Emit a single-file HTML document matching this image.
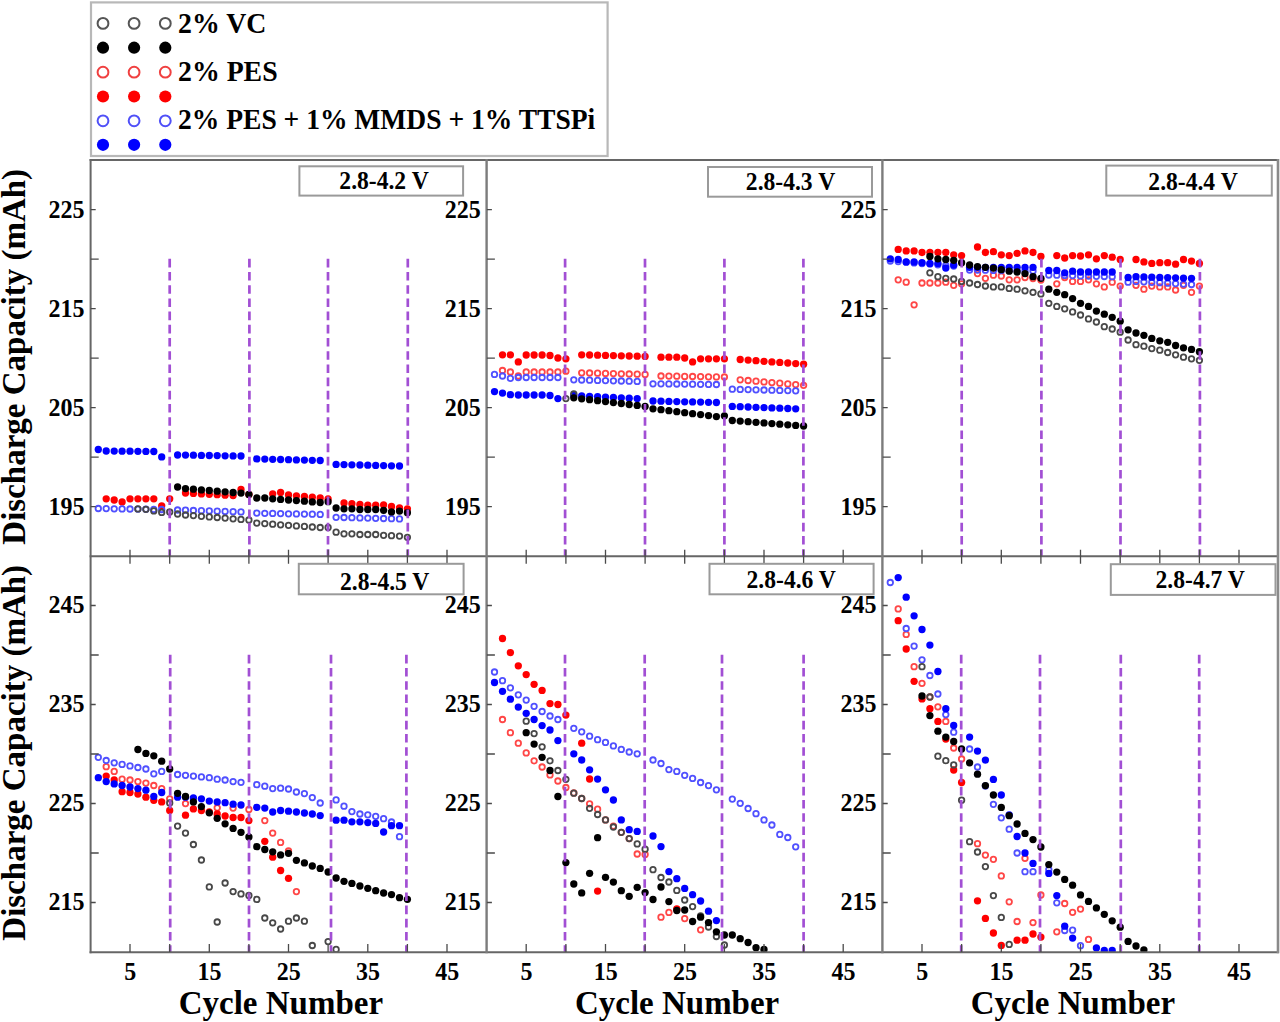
<!DOCTYPE html>
<html><head><meta charset="utf-8"><title>Discharge Capacity vs Cycle Number</title>
<style>html,body{margin:0;padding:0;background:#fff;width:1280px;height:1022px;overflow:hidden}svg{display:block}</style>
</head><body>
<svg width="1280" height="1022" viewBox="0 0 1280 1022">
<rect x="0" y="0" width="1280" height="1022" fill="#fff"/>
<rect x="91" y="2.4" width="516.6" height="153.6" fill="#fff" stroke="#b8b8b8" stroke-width="2.2"/>
<circle cx="103" cy="23.4" r="5.4" fill="none" stroke="#555" stroke-width="2"/>
<circle cx="134.1" cy="23.4" r="5.4" fill="none" stroke="#555" stroke-width="2"/>
<circle cx="165.3" cy="23.4" r="5.4" fill="none" stroke="#555" stroke-width="2"/>
<circle cx="103" cy="47.7" r="6.1" fill="#000"/>
<circle cx="134.1" cy="47.7" r="6.1" fill="#000"/>
<circle cx="165.3" cy="47.7" r="6.1" fill="#000"/>
<circle cx="103" cy="72.2" r="5.4" fill="none" stroke="#f04040" stroke-width="2"/>
<circle cx="134.1" cy="72.2" r="5.4" fill="none" stroke="#f04040" stroke-width="2"/>
<circle cx="165.3" cy="72.2" r="5.4" fill="none" stroke="#f04040" stroke-width="2"/>
<circle cx="103" cy="96.5" r="6.1" fill="#ff0000"/>
<circle cx="134.1" cy="96.5" r="6.1" fill="#ff0000"/>
<circle cx="165.3" cy="96.5" r="6.1" fill="#ff0000"/>
<circle cx="103" cy="120.8" r="5.4" fill="none" stroke="#5050f8" stroke-width="2"/>
<circle cx="134.1" cy="120.8" r="5.4" fill="none" stroke="#5050f8" stroke-width="2"/>
<circle cx="165.3" cy="120.8" r="5.4" fill="none" stroke="#5050f8" stroke-width="2"/>
<circle cx="103" cy="144.8" r="6.1" fill="#0000ff"/>
<circle cx="134.1" cy="144.8" r="6.1" fill="#0000ff"/>
<circle cx="165.3" cy="144.8" r="6.1" fill="#0000ff"/>
<text transform="translate(178 32.6) scale(1 1.05)" style="font-family:'Liberation Serif',serif;font-weight:bold;font-size:27.8px">2% VC</text>
<text transform="translate(178 80.7) scale(1 1.05)" style="font-family:'Liberation Serif',serif;font-weight:bold;font-size:27.8px">2% PES</text>
<text transform="translate(178 129) scale(1 1.05)" style="font-family:'Liberation Serif',serif;font-weight:bold;font-size:27.55px">2% PES + 1% MMDS + 1% TTSPi</text>
<defs><clipPath id="cb"><rect x="90.7" y="556" width="1187.3" height="396"/></clipPath><clipPath id="ct"><rect x="90.7" y="160.2" width="1187.3" height="395.8"/></clipPath></defs>
<g clip-path="url(#ct)">
<circle cx="106.2" cy="498.8" r="3.65" fill="#ff0000"/>
<circle cx="114.2" cy="500" r="3.65" fill="#ff0000"/>
<circle cx="122.1" cy="501.9" r="3.65" fill="#ff0000"/>
<circle cx="130" cy="498.8" r="3.65" fill="#ff0000"/>
<circle cx="137.9" cy="498.8" r="3.65" fill="#ff0000"/>
<circle cx="145.9" cy="498.8" r="3.65" fill="#ff0000"/>
<circle cx="153.8" cy="498.8" r="3.65" fill="#ff0000"/>
<circle cx="161.7" cy="505.8" r="3.65" fill="#ff0000"/>
<circle cx="169.7" cy="498.8" r="3.65" fill="#ff0000"/>
<circle cx="185.5" cy="493" r="3.65" fill="#ff0000"/>
<circle cx="193.4" cy="493.4" r="3.65" fill="#ff0000"/>
<circle cx="201.4" cy="493.9" r="3.65" fill="#ff0000"/>
<circle cx="209.3" cy="494.3" r="3.65" fill="#ff0000"/>
<circle cx="217.2" cy="494.7" r="3.65" fill="#ff0000"/>
<circle cx="225.1" cy="495.2" r="3.65" fill="#ff0000"/>
<circle cx="233.1" cy="495.6" r="3.65" fill="#ff0000"/>
<circle cx="241" cy="489.4" r="3.65" fill="#ff0000"/>
<circle cx="248.9" cy="494.5" r="3.65" fill="#ff0000"/>
<circle cx="272.7" cy="493.8" r="3.65" fill="#ff0000"/>
<circle cx="280.6" cy="492.5" r="3.65" fill="#ff0000"/>
<circle cx="288.5" cy="495" r="3.65" fill="#ff0000"/>
<circle cx="296.4" cy="495.8" r="3.65" fill="#ff0000"/>
<circle cx="304.4" cy="496.5" r="3.65" fill="#ff0000"/>
<circle cx="312.3" cy="497.2" r="3.65" fill="#ff0000"/>
<circle cx="320.2" cy="498" r="3.65" fill="#ff0000"/>
<circle cx="328.1" cy="499" r="3.65" fill="#ff0000"/>
<circle cx="344" cy="502.9" r="3.65" fill="#ff0000"/>
<circle cx="351.9" cy="503.7" r="3.65" fill="#ff0000"/>
<circle cx="359.9" cy="504.5" r="3.65" fill="#ff0000"/>
<circle cx="367.8" cy="505.2" r="3.65" fill="#ff0000"/>
<circle cx="375.7" cy="505.2" r="3.65" fill="#ff0000"/>
<circle cx="383.6" cy="504.8" r="3.65" fill="#ff0000"/>
<circle cx="391.5" cy="506.4" r="3.65" fill="#ff0000"/>
<circle cx="399.5" cy="508" r="3.65" fill="#ff0000"/>
<circle cx="407.4" cy="508.8" r="3.65" fill="#ff0000"/>
<circle cx="98.3" cy="508.5" r="2.75" fill="none" stroke="#5050ff" stroke-width="1.8"/>
<circle cx="106.2" cy="508.6" r="2.75" fill="none" stroke="#5050ff" stroke-width="1.8"/>
<circle cx="114.2" cy="508.8" r="2.75" fill="none" stroke="#5050ff" stroke-width="1.8"/>
<circle cx="122.1" cy="508.9" r="2.75" fill="none" stroke="#5050ff" stroke-width="1.8"/>
<circle cx="130" cy="509" r="2.75" fill="none" stroke="#5050ff" stroke-width="1.8"/>
<circle cx="137.9" cy="509.1" r="2.75" fill="none" stroke="#5050ff" stroke-width="1.8"/>
<circle cx="145.9" cy="509.2" r="2.75" fill="none" stroke="#5050ff" stroke-width="1.8"/>
<circle cx="153.8" cy="509.4" r="2.75" fill="none" stroke="#5050ff" stroke-width="1.8"/>
<circle cx="161.7" cy="509.5" r="2.75" fill="none" stroke="#5050ff" stroke-width="1.8"/>
<circle cx="177.6" cy="510" r="2.75" fill="none" stroke="#5050ff" stroke-width="1.8"/>
<circle cx="185.5" cy="510.2" r="2.75" fill="none" stroke="#5050ff" stroke-width="1.8"/>
<circle cx="193.4" cy="510.5" r="2.75" fill="none" stroke="#5050ff" stroke-width="1.8"/>
<circle cx="201.4" cy="510.7" r="2.75" fill="none" stroke="#5050ff" stroke-width="1.8"/>
<circle cx="209.3" cy="510.9" r="2.75" fill="none" stroke="#5050ff" stroke-width="1.8"/>
<circle cx="217.2" cy="511.2" r="2.75" fill="none" stroke="#5050ff" stroke-width="1.8"/>
<circle cx="225.1" cy="511.4" r="2.75" fill="none" stroke="#5050ff" stroke-width="1.8"/>
<circle cx="233.1" cy="511.7" r="2.75" fill="none" stroke="#5050ff" stroke-width="1.8"/>
<circle cx="241" cy="511.9" r="2.75" fill="none" stroke="#5050ff" stroke-width="1.8"/>
<circle cx="256.8" cy="513.1" r="2.75" fill="none" stroke="#5050ff" stroke-width="1.8"/>
<circle cx="264.8" cy="513.3" r="2.75" fill="none" stroke="#5050ff" stroke-width="1.8"/>
<circle cx="272.7" cy="513.4" r="2.75" fill="none" stroke="#5050ff" stroke-width="1.8"/>
<circle cx="280.6" cy="513.6" r="2.75" fill="none" stroke="#5050ff" stroke-width="1.8"/>
<circle cx="288.5" cy="513.8" r="2.75" fill="none" stroke="#5050ff" stroke-width="1.8"/>
<circle cx="296.4" cy="513.9" r="2.75" fill="none" stroke="#5050ff" stroke-width="1.8"/>
<circle cx="304.4" cy="514.1" r="2.75" fill="none" stroke="#5050ff" stroke-width="1.8"/>
<circle cx="312.3" cy="514.2" r="2.75" fill="none" stroke="#5050ff" stroke-width="1.8"/>
<circle cx="320.2" cy="514.4" r="2.75" fill="none" stroke="#5050ff" stroke-width="1.8"/>
<circle cx="336.1" cy="517.3" r="2.75" fill="none" stroke="#5050ff" stroke-width="1.8"/>
<circle cx="344" cy="517.5" r="2.75" fill="none" stroke="#5050ff" stroke-width="1.8"/>
<circle cx="351.9" cy="517.7" r="2.75" fill="none" stroke="#5050ff" stroke-width="1.8"/>
<circle cx="359.9" cy="517.9" r="2.75" fill="none" stroke="#5050ff" stroke-width="1.8"/>
<circle cx="367.8" cy="518.1" r="2.75" fill="none" stroke="#5050ff" stroke-width="1.8"/>
<circle cx="375.7" cy="518.3" r="2.75" fill="none" stroke="#5050ff" stroke-width="1.8"/>
<circle cx="383.6" cy="518.5" r="2.75" fill="none" stroke="#5050ff" stroke-width="1.8"/>
<circle cx="391.5" cy="518.7" r="2.75" fill="none" stroke="#5050ff" stroke-width="1.8"/>
<circle cx="399.5" cy="518.9" r="2.75" fill="none" stroke="#5050ff" stroke-width="1.8"/>
<circle cx="98.3" cy="449.5" r="3.65" fill="#0000ff"/>
<circle cx="106.2" cy="451" r="3.65" fill="#0000ff"/>
<circle cx="114.2" cy="451.1" r="3.65" fill="#0000ff"/>
<circle cx="122.1" cy="451.2" r="3.65" fill="#0000ff"/>
<circle cx="130" cy="451.2" r="3.65" fill="#0000ff"/>
<circle cx="137.9" cy="451.3" r="3.65" fill="#0000ff"/>
<circle cx="145.9" cy="451.4" r="3.65" fill="#0000ff"/>
<circle cx="153.8" cy="451.5" r="3.65" fill="#0000ff"/>
<circle cx="161.7" cy="456.9" r="3.65" fill="#0000ff"/>
<circle cx="177.6" cy="455" r="3.65" fill="#0000ff"/>
<circle cx="185.5" cy="455.1" r="3.65" fill="#0000ff"/>
<circle cx="193.4" cy="455.2" r="3.65" fill="#0000ff"/>
<circle cx="201.4" cy="455.4" r="3.65" fill="#0000ff"/>
<circle cx="209.3" cy="455.5" r="3.65" fill="#0000ff"/>
<circle cx="217.2" cy="455.6" r="3.65" fill="#0000ff"/>
<circle cx="225.1" cy="455.8" r="3.65" fill="#0000ff"/>
<circle cx="233.1" cy="455.9" r="3.65" fill="#0000ff"/>
<circle cx="241" cy="456" r="3.65" fill="#0000ff"/>
<circle cx="256.8" cy="458.9" r="3.65" fill="#0000ff"/>
<circle cx="264.8" cy="459.1" r="3.65" fill="#0000ff"/>
<circle cx="272.7" cy="459.3" r="3.65" fill="#0000ff"/>
<circle cx="280.6" cy="459.5" r="3.65" fill="#0000ff"/>
<circle cx="288.5" cy="459.7" r="3.65" fill="#0000ff"/>
<circle cx="296.4" cy="459.9" r="3.65" fill="#0000ff"/>
<circle cx="304.4" cy="460.1" r="3.65" fill="#0000ff"/>
<circle cx="312.3" cy="460.3" r="3.65" fill="#0000ff"/>
<circle cx="320.2" cy="460.5" r="3.65" fill="#0000ff"/>
<circle cx="336.1" cy="464.4" r="3.65" fill="#0000ff"/>
<circle cx="344" cy="464.6" r="3.65" fill="#0000ff"/>
<circle cx="351.9" cy="464.8" r="3.65" fill="#0000ff"/>
<circle cx="359.9" cy="465" r="3.65" fill="#0000ff"/>
<circle cx="367.8" cy="465.2" r="3.65" fill="#0000ff"/>
<circle cx="375.7" cy="465.4" r="3.65" fill="#0000ff"/>
<circle cx="383.6" cy="465.6" r="3.65" fill="#0000ff"/>
<circle cx="391.5" cy="465.8" r="3.65" fill="#0000ff"/>
<circle cx="399.5" cy="466" r="3.65" fill="#0000ff"/>
<circle cx="137.9" cy="508.9" r="2.75" fill="none" stroke="#484848" stroke-width="1.8"/>
<circle cx="145.9" cy="509.3" r="2.75" fill="none" stroke="#484848" stroke-width="1.8"/>
<circle cx="153.8" cy="510.9" r="2.75" fill="none" stroke="#484848" stroke-width="1.8"/>
<circle cx="161.7" cy="512.4" r="2.75" fill="none" stroke="#484848" stroke-width="1.8"/>
<circle cx="169.7" cy="512" r="2.75" fill="none" stroke="#484848" stroke-width="1.8"/>
<circle cx="177.6" cy="514" r="2.75" fill="none" stroke="#484848" stroke-width="1.8"/>
<circle cx="185.5" cy="515" r="2.75" fill="none" stroke="#484848" stroke-width="1.8"/>
<circle cx="193.4" cy="515.6" r="2.75" fill="none" stroke="#484848" stroke-width="1.8"/>
<circle cx="201.4" cy="516.3" r="2.75" fill="none" stroke="#484848" stroke-width="1.8"/>
<circle cx="209.3" cy="516.9" r="2.75" fill="none" stroke="#484848" stroke-width="1.8"/>
<circle cx="217.2" cy="517.5" r="2.75" fill="none" stroke="#484848" stroke-width="1.8"/>
<circle cx="225.1" cy="518.1" r="2.75" fill="none" stroke="#484848" stroke-width="1.8"/>
<circle cx="233.1" cy="518.8" r="2.75" fill="none" stroke="#484848" stroke-width="1.8"/>
<circle cx="241" cy="519.4" r="2.75" fill="none" stroke="#484848" stroke-width="1.8"/>
<circle cx="248.9" cy="520" r="2.75" fill="none" stroke="#484848" stroke-width="1.8"/>
<circle cx="256.8" cy="523.1" r="2.75" fill="none" stroke="#484848" stroke-width="1.8"/>
<circle cx="264.8" cy="523.6" r="2.75" fill="none" stroke="#484848" stroke-width="1.8"/>
<circle cx="272.7" cy="524.2" r="2.75" fill="none" stroke="#484848" stroke-width="1.8"/>
<circle cx="280.6" cy="524.8" r="2.75" fill="none" stroke="#484848" stroke-width="1.8"/>
<circle cx="288.5" cy="525.3" r="2.75" fill="none" stroke="#484848" stroke-width="1.8"/>
<circle cx="296.4" cy="525.9" r="2.75" fill="none" stroke="#484848" stroke-width="1.8"/>
<circle cx="304.4" cy="526.4" r="2.75" fill="none" stroke="#484848" stroke-width="1.8"/>
<circle cx="312.3" cy="527" r="2.75" fill="none" stroke="#484848" stroke-width="1.8"/>
<circle cx="320.2" cy="527.5" r="2.75" fill="none" stroke="#484848" stroke-width="1.8"/>
<circle cx="328.1" cy="527.5" r="2.75" fill="none" stroke="#484848" stroke-width="1.8"/>
<circle cx="336.1" cy="532.2" r="2.75" fill="none" stroke="#484848" stroke-width="1.8"/>
<circle cx="344" cy="533.8" r="2.75" fill="none" stroke="#484848" stroke-width="1.8"/>
<circle cx="351.9" cy="533.8" r="2.75" fill="none" stroke="#484848" stroke-width="1.8"/>
<circle cx="359.9" cy="534.5" r="2.75" fill="none" stroke="#484848" stroke-width="1.8"/>
<circle cx="367.8" cy="534.5" r="2.75" fill="none" stroke="#484848" stroke-width="1.8"/>
<circle cx="375.7" cy="534.5" r="2.75" fill="none" stroke="#484848" stroke-width="1.8"/>
<circle cx="383.6" cy="535.3" r="2.75" fill="none" stroke="#484848" stroke-width="1.8"/>
<circle cx="391.5" cy="535.7" r="2.75" fill="none" stroke="#484848" stroke-width="1.8"/>
<circle cx="399.5" cy="536.1" r="2.75" fill="none" stroke="#484848" stroke-width="1.8"/>
<circle cx="407.4" cy="537.3" r="2.75" fill="none" stroke="#484848" stroke-width="1.8"/>
<circle cx="177.6" cy="487" r="3.65" fill="#000"/>
<circle cx="185.5" cy="488.6" r="3.65" fill="#000"/>
<circle cx="193.4" cy="489.2" r="3.65" fill="#000"/>
<circle cx="201.4" cy="489.9" r="3.65" fill="#000"/>
<circle cx="209.3" cy="490.5" r="3.65" fill="#000"/>
<circle cx="217.2" cy="491.2" r="3.65" fill="#000"/>
<circle cx="225.1" cy="491.8" r="3.65" fill="#000"/>
<circle cx="233.1" cy="492.5" r="3.65" fill="#000"/>
<circle cx="241" cy="493.1" r="3.65" fill="#000"/>
<circle cx="248.9" cy="494.4" r="3.65" fill="#000"/>
<circle cx="256.8" cy="498" r="3.65" fill="#000"/>
<circle cx="264.8" cy="498" r="3.65" fill="#000"/>
<circle cx="272.7" cy="498.8" r="3.65" fill="#000"/>
<circle cx="280.6" cy="499.4" r="3.65" fill="#000"/>
<circle cx="288.5" cy="500" r="3.65" fill="#000"/>
<circle cx="296.4" cy="500.6" r="3.65" fill="#000"/>
<circle cx="304.4" cy="501.2" r="3.65" fill="#000"/>
<circle cx="312.3" cy="501.9" r="3.65" fill="#000"/>
<circle cx="320.2" cy="502.5" r="3.65" fill="#000"/>
<circle cx="328.1" cy="501.7" r="3.65" fill="#000"/>
<circle cx="336.1" cy="508" r="3.65" fill="#000"/>
<circle cx="344" cy="508.8" r="3.65" fill="#000"/>
<circle cx="351.9" cy="508.8" r="3.65" fill="#000"/>
<circle cx="359.9" cy="509.5" r="3.65" fill="#000"/>
<circle cx="367.8" cy="509.5" r="3.65" fill="#000"/>
<circle cx="375.7" cy="509.5" r="3.65" fill="#000"/>
<circle cx="383.6" cy="510.3" r="3.65" fill="#000"/>
<circle cx="391.5" cy="511.9" r="3.65" fill="#000"/>
<circle cx="399.5" cy="511.1" r="3.65" fill="#000"/>
<circle cx="407.4" cy="512.7" r="3.65" fill="#000"/>
</g>
<g clip-path="url(#ct)">
<circle cx="502.5" cy="370.5" r="2.75" fill="none" stroke="#ff4646" stroke-width="1.8"/>
<circle cx="510.4" cy="372" r="2.75" fill="none" stroke="#ff4646" stroke-width="1.8"/>
<circle cx="518.3" cy="376" r="2.75" fill="none" stroke="#ff4646" stroke-width="1.8"/>
<circle cx="526.2" cy="372" r="2.75" fill="none" stroke="#ff4646" stroke-width="1.8"/>
<circle cx="534.1" cy="372" r="2.75" fill="none" stroke="#ff4646" stroke-width="1.8"/>
<circle cx="542.1" cy="372" r="2.75" fill="none" stroke="#ff4646" stroke-width="1.8"/>
<circle cx="550" cy="372" r="2.75" fill="none" stroke="#ff4646" stroke-width="1.8"/>
<circle cx="557.9" cy="372" r="2.75" fill="none" stroke="#ff4646" stroke-width="1.8"/>
<circle cx="565.9" cy="371.2" r="2.75" fill="none" stroke="#ff4646" stroke-width="1.8"/>
<circle cx="581.7" cy="372.8" r="2.75" fill="none" stroke="#ff4646" stroke-width="1.8"/>
<circle cx="589.6" cy="373" r="2.75" fill="none" stroke="#ff4646" stroke-width="1.8"/>
<circle cx="597.6" cy="373.2" r="2.75" fill="none" stroke="#ff4646" stroke-width="1.8"/>
<circle cx="605.5" cy="373.4" r="2.75" fill="none" stroke="#ff4646" stroke-width="1.8"/>
<circle cx="613.4" cy="373.6" r="2.75" fill="none" stroke="#ff4646" stroke-width="1.8"/>
<circle cx="621.3" cy="373.8" r="2.75" fill="none" stroke="#ff4646" stroke-width="1.8"/>
<circle cx="629.2" cy="374" r="2.75" fill="none" stroke="#ff4646" stroke-width="1.8"/>
<circle cx="637.2" cy="374.2" r="2.75" fill="none" stroke="#ff4646" stroke-width="1.8"/>
<circle cx="645.1" cy="374.4" r="2.75" fill="none" stroke="#ff4646" stroke-width="1.8"/>
<circle cx="661" cy="376" r="2.75" fill="none" stroke="#ff4646" stroke-width="1.8"/>
<circle cx="668.9" cy="376.1" r="2.75" fill="none" stroke="#ff4646" stroke-width="1.8"/>
<circle cx="676.8" cy="376.2" r="2.75" fill="none" stroke="#ff4646" stroke-width="1.8"/>
<circle cx="684.7" cy="376.4" r="2.75" fill="none" stroke="#ff4646" stroke-width="1.8"/>
<circle cx="692.6" cy="376.5" r="2.75" fill="none" stroke="#ff4646" stroke-width="1.8"/>
<circle cx="700.6" cy="376.6" r="2.75" fill="none" stroke="#ff4646" stroke-width="1.8"/>
<circle cx="708.5" cy="376.8" r="2.75" fill="none" stroke="#ff4646" stroke-width="1.8"/>
<circle cx="716.4" cy="376.9" r="2.75" fill="none" stroke="#ff4646" stroke-width="1.8"/>
<circle cx="724.4" cy="377" r="2.75" fill="none" stroke="#ff4646" stroke-width="1.8"/>
<circle cx="740.2" cy="379.8" r="2.75" fill="none" stroke="#ff4646" stroke-width="1.8"/>
<circle cx="748.1" cy="380.5" r="2.75" fill="none" stroke="#ff4646" stroke-width="1.8"/>
<circle cx="756" cy="381.2" r="2.75" fill="none" stroke="#ff4646" stroke-width="1.8"/>
<circle cx="764" cy="381.9" r="2.75" fill="none" stroke="#ff4646" stroke-width="1.8"/>
<circle cx="771.9" cy="382.6" r="2.75" fill="none" stroke="#ff4646" stroke-width="1.8"/>
<circle cx="779.8" cy="383.2" r="2.75" fill="none" stroke="#ff4646" stroke-width="1.8"/>
<circle cx="787.8" cy="383.9" r="2.75" fill="none" stroke="#ff4646" stroke-width="1.8"/>
<circle cx="795.7" cy="384.6" r="2.75" fill="none" stroke="#ff4646" stroke-width="1.8"/>
<circle cx="803.6" cy="385.3" r="2.75" fill="none" stroke="#ff4646" stroke-width="1.8"/>
<circle cx="502.5" cy="354.8" r="3.65" fill="#ff0000"/>
<circle cx="510.4" cy="354.8" r="3.65" fill="#ff0000"/>
<circle cx="518.3" cy="361.9" r="3.65" fill="#ff0000"/>
<circle cx="526.2" cy="355" r="3.65" fill="#ff0000"/>
<circle cx="534.1" cy="355" r="3.65" fill="#ff0000"/>
<circle cx="542.1" cy="355" r="3.65" fill="#ff0000"/>
<circle cx="550" cy="355.5" r="3.65" fill="#ff0000"/>
<circle cx="557.9" cy="358" r="3.65" fill="#ff0000"/>
<circle cx="565.9" cy="358.8" r="3.65" fill="#ff0000"/>
<circle cx="581.7" cy="354.8" r="3.65" fill="#ff0000"/>
<circle cx="589.6" cy="355" r="3.65" fill="#ff0000"/>
<circle cx="597.6" cy="355.2" r="3.65" fill="#ff0000"/>
<circle cx="605.5" cy="355.4" r="3.65" fill="#ff0000"/>
<circle cx="613.4" cy="355.6" r="3.65" fill="#ff0000"/>
<circle cx="621.3" cy="355.8" r="3.65" fill="#ff0000"/>
<circle cx="629.2" cy="356" r="3.65" fill="#ff0000"/>
<circle cx="637.2" cy="356.2" r="3.65" fill="#ff0000"/>
<circle cx="645.1" cy="356.4" r="3.65" fill="#ff0000"/>
<circle cx="661" cy="357.2" r="3.65" fill="#ff0000"/>
<circle cx="668.9" cy="357.2" r="3.65" fill="#ff0000"/>
<circle cx="676.8" cy="357.2" r="3.65" fill="#ff0000"/>
<circle cx="684.7" cy="358" r="3.65" fill="#ff0000"/>
<circle cx="692.6" cy="361.9" r="3.65" fill="#ff0000"/>
<circle cx="700.6" cy="358.8" r="3.65" fill="#ff0000"/>
<circle cx="708.5" cy="358.8" r="3.65" fill="#ff0000"/>
<circle cx="716.4" cy="358.8" r="3.65" fill="#ff0000"/>
<circle cx="724.4" cy="358.8" r="3.65" fill="#ff0000"/>
<circle cx="740.2" cy="359.5" r="3.65" fill="#ff0000"/>
<circle cx="748.1" cy="360.1" r="3.65" fill="#ff0000"/>
<circle cx="756" cy="360.7" r="3.65" fill="#ff0000"/>
<circle cx="764" cy="361.3" r="3.65" fill="#ff0000"/>
<circle cx="771.9" cy="361.9" r="3.65" fill="#ff0000"/>
<circle cx="779.8" cy="362.4" r="3.65" fill="#ff0000"/>
<circle cx="787.8" cy="363" r="3.65" fill="#ff0000"/>
<circle cx="795.7" cy="363.6" r="3.65" fill="#ff0000"/>
<circle cx="803.6" cy="364.2" r="3.65" fill="#ff0000"/>
<circle cx="494.5" cy="374.4" r="2.75" fill="none" stroke="#5050ff" stroke-width="1.8"/>
<circle cx="502.5" cy="376" r="2.75" fill="none" stroke="#5050ff" stroke-width="1.8"/>
<circle cx="510.4" cy="378.3" r="2.75" fill="none" stroke="#5050ff" stroke-width="1.8"/>
<circle cx="518.3" cy="377.5" r="2.75" fill="none" stroke="#5050ff" stroke-width="1.8"/>
<circle cx="526.2" cy="377.5" r="2.75" fill="none" stroke="#5050ff" stroke-width="1.8"/>
<circle cx="534.1" cy="377.5" r="2.75" fill="none" stroke="#5050ff" stroke-width="1.8"/>
<circle cx="542.1" cy="377.5" r="2.75" fill="none" stroke="#5050ff" stroke-width="1.8"/>
<circle cx="550" cy="377.5" r="2.75" fill="none" stroke="#5050ff" stroke-width="1.8"/>
<circle cx="557.9" cy="377.5" r="2.75" fill="none" stroke="#5050ff" stroke-width="1.8"/>
<circle cx="573.8" cy="379.8" r="2.75" fill="none" stroke="#5050ff" stroke-width="1.8"/>
<circle cx="581.7" cy="380" r="2.75" fill="none" stroke="#5050ff" stroke-width="1.8"/>
<circle cx="589.6" cy="380.2" r="2.75" fill="none" stroke="#5050ff" stroke-width="1.8"/>
<circle cx="597.6" cy="380.4" r="2.75" fill="none" stroke="#5050ff" stroke-width="1.8"/>
<circle cx="605.5" cy="380.6" r="2.75" fill="none" stroke="#5050ff" stroke-width="1.8"/>
<circle cx="613.4" cy="380.8" r="2.75" fill="none" stroke="#5050ff" stroke-width="1.8"/>
<circle cx="621.3" cy="381" r="2.75" fill="none" stroke="#5050ff" stroke-width="1.8"/>
<circle cx="629.2" cy="381.2" r="2.75" fill="none" stroke="#5050ff" stroke-width="1.8"/>
<circle cx="637.2" cy="381.4" r="2.75" fill="none" stroke="#5050ff" stroke-width="1.8"/>
<circle cx="653" cy="383.8" r="2.75" fill="none" stroke="#5050ff" stroke-width="1.8"/>
<circle cx="661" cy="383.8" r="2.75" fill="none" stroke="#5050ff" stroke-width="1.8"/>
<circle cx="668.9" cy="383.9" r="2.75" fill="none" stroke="#5050ff" stroke-width="1.8"/>
<circle cx="676.8" cy="384" r="2.75" fill="none" stroke="#5050ff" stroke-width="1.8"/>
<circle cx="684.7" cy="384.1" r="2.75" fill="none" stroke="#5050ff" stroke-width="1.8"/>
<circle cx="692.6" cy="384.2" r="2.75" fill="none" stroke="#5050ff" stroke-width="1.8"/>
<circle cx="700.6" cy="384.3" r="2.75" fill="none" stroke="#5050ff" stroke-width="1.8"/>
<circle cx="708.5" cy="384.4" r="2.75" fill="none" stroke="#5050ff" stroke-width="1.8"/>
<circle cx="716.4" cy="384.5" r="2.75" fill="none" stroke="#5050ff" stroke-width="1.8"/>
<circle cx="732.3" cy="389.2" r="2.75" fill="none" stroke="#5050ff" stroke-width="1.8"/>
<circle cx="740.2" cy="389.4" r="2.75" fill="none" stroke="#5050ff" stroke-width="1.8"/>
<circle cx="748.1" cy="389.6" r="2.75" fill="none" stroke="#5050ff" stroke-width="1.8"/>
<circle cx="756" cy="389.8" r="2.75" fill="none" stroke="#5050ff" stroke-width="1.8"/>
<circle cx="764" cy="390" r="2.75" fill="none" stroke="#5050ff" stroke-width="1.8"/>
<circle cx="771.9" cy="390.2" r="2.75" fill="none" stroke="#5050ff" stroke-width="1.8"/>
<circle cx="779.8" cy="390.4" r="2.75" fill="none" stroke="#5050ff" stroke-width="1.8"/>
<circle cx="787.8" cy="390.6" r="2.75" fill="none" stroke="#5050ff" stroke-width="1.8"/>
<circle cx="795.7" cy="390.8" r="2.75" fill="none" stroke="#5050ff" stroke-width="1.8"/>
<circle cx="494.5" cy="391.6" r="3.65" fill="#0000ff"/>
<circle cx="502.5" cy="393.1" r="3.65" fill="#0000ff"/>
<circle cx="510.4" cy="394.7" r="3.65" fill="#0000ff"/>
<circle cx="518.3" cy="395" r="3.65" fill="#0000ff"/>
<circle cx="526.2" cy="395" r="3.65" fill="#0000ff"/>
<circle cx="534.1" cy="395" r="3.65" fill="#0000ff"/>
<circle cx="542.1" cy="395" r="3.65" fill="#0000ff"/>
<circle cx="550" cy="395.5" r="3.65" fill="#0000ff"/>
<circle cx="557.9" cy="398.6" r="3.65" fill="#0000ff"/>
<circle cx="573.8" cy="395.5" r="3.65" fill="#0000ff"/>
<circle cx="581.7" cy="395.9" r="3.65" fill="#0000ff"/>
<circle cx="589.6" cy="396.3" r="3.65" fill="#0000ff"/>
<circle cx="597.6" cy="396.7" r="3.65" fill="#0000ff"/>
<circle cx="605.5" cy="397.1" r="3.65" fill="#0000ff"/>
<circle cx="613.4" cy="397.4" r="3.65" fill="#0000ff"/>
<circle cx="621.3" cy="397.8" r="3.65" fill="#0000ff"/>
<circle cx="629.2" cy="398.2" r="3.65" fill="#0000ff"/>
<circle cx="637.2" cy="398.6" r="3.65" fill="#0000ff"/>
<circle cx="653" cy="401" r="3.65" fill="#0000ff"/>
<circle cx="661" cy="401.2" r="3.65" fill="#0000ff"/>
<circle cx="668.9" cy="401.4" r="3.65" fill="#0000ff"/>
<circle cx="676.8" cy="401.6" r="3.65" fill="#0000ff"/>
<circle cx="684.7" cy="401.8" r="3.65" fill="#0000ff"/>
<circle cx="692.6" cy="401.9" r="3.65" fill="#0000ff"/>
<circle cx="700.6" cy="402.1" r="3.65" fill="#0000ff"/>
<circle cx="708.5" cy="402.3" r="3.65" fill="#0000ff"/>
<circle cx="716.4" cy="402.5" r="3.65" fill="#0000ff"/>
<circle cx="732.3" cy="406.4" r="3.65" fill="#0000ff"/>
<circle cx="740.2" cy="406.7" r="3.65" fill="#0000ff"/>
<circle cx="748.1" cy="407" r="3.65" fill="#0000ff"/>
<circle cx="756" cy="407.3" r="3.65" fill="#0000ff"/>
<circle cx="764" cy="407.6" r="3.65" fill="#0000ff"/>
<circle cx="771.9" cy="407.9" r="3.65" fill="#0000ff"/>
<circle cx="779.8" cy="408.2" r="3.65" fill="#0000ff"/>
<circle cx="787.8" cy="408.5" r="3.65" fill="#0000ff"/>
<circle cx="795.7" cy="408.8" r="3.65" fill="#0000ff"/>
<circle cx="565.9" cy="398.6" r="2.75" fill="none" stroke="#484848" stroke-width="1.8"/>
<circle cx="573.8" cy="394" r="2.75" fill="none" stroke="#484848" stroke-width="1.8"/>
<circle cx="573.8" cy="397.8" r="3.65" fill="#000"/>
<circle cx="581.7" cy="398.8" r="3.65" fill="#000"/>
<circle cx="589.6" cy="399.7" r="3.65" fill="#000"/>
<circle cx="597.6" cy="400.7" r="3.65" fill="#000"/>
<circle cx="605.5" cy="401.6" r="3.65" fill="#000"/>
<circle cx="613.4" cy="402.6" r="3.65" fill="#000"/>
<circle cx="621.3" cy="403.5" r="3.65" fill="#000"/>
<circle cx="629.2" cy="404.5" r="3.65" fill="#000"/>
<circle cx="637.2" cy="405.4" r="3.65" fill="#000"/>
<circle cx="645.1" cy="406.4" r="3.65" fill="#000"/>
<circle cx="653" cy="408.8" r="3.65" fill="#000"/>
<circle cx="661" cy="409.7" r="3.65" fill="#000"/>
<circle cx="668.9" cy="410.7" r="3.65" fill="#000"/>
<circle cx="676.8" cy="411.7" r="3.65" fill="#000"/>
<circle cx="684.7" cy="412.7" r="3.65" fill="#000"/>
<circle cx="692.6" cy="413.7" r="3.65" fill="#000"/>
<circle cx="700.6" cy="414.6" r="3.65" fill="#000"/>
<circle cx="708.5" cy="415.6" r="3.65" fill="#000"/>
<circle cx="716.4" cy="416.6" r="3.65" fill="#000"/>
<circle cx="724.4" cy="415.8" r="3.65" fill="#000"/>
<circle cx="732.3" cy="420.5" r="3.65" fill="#000"/>
<circle cx="740.2" cy="421.1" r="3.65" fill="#000"/>
<circle cx="748.1" cy="421.7" r="3.65" fill="#000"/>
<circle cx="756" cy="422.3" r="3.65" fill="#000"/>
<circle cx="764" cy="422.9" r="3.65" fill="#000"/>
<circle cx="771.9" cy="423.6" r="3.65" fill="#000"/>
<circle cx="779.8" cy="424.2" r="3.65" fill="#000"/>
<circle cx="787.8" cy="424.8" r="3.65" fill="#000"/>
<circle cx="795.7" cy="425.4" r="3.65" fill="#000"/>
<circle cx="803.6" cy="426" r="3.65" fill="#000"/>
</g>
<g clip-path="url(#ct)">
<circle cx="898.2" cy="279.8" r="2.75" fill="none" stroke="#ff4646" stroke-width="1.8"/>
<circle cx="906.2" cy="282.2" r="2.75" fill="none" stroke="#ff4646" stroke-width="1.8"/>
<circle cx="914.1" cy="304.8" r="2.75" fill="none" stroke="#ff4646" stroke-width="1.8"/>
<circle cx="922" cy="283" r="2.75" fill="none" stroke="#ff4646" stroke-width="1.8"/>
<circle cx="929.9" cy="283" r="2.75" fill="none" stroke="#ff4646" stroke-width="1.8"/>
<circle cx="937.9" cy="283" r="2.75" fill="none" stroke="#ff4646" stroke-width="1.8"/>
<circle cx="945.8" cy="282.2" r="2.75" fill="none" stroke="#ff4646" stroke-width="1.8"/>
<circle cx="953.7" cy="285.3" r="2.75" fill="none" stroke="#ff4646" stroke-width="1.8"/>
<circle cx="961.6" cy="283.8" r="2.75" fill="none" stroke="#ff4646" stroke-width="1.8"/>
<circle cx="977.5" cy="273.6" r="2.75" fill="none" stroke="#ff4646" stroke-width="1.8"/>
<circle cx="985.4" cy="278.3" r="2.75" fill="none" stroke="#ff4646" stroke-width="1.8"/>
<circle cx="993.4" cy="275.2" r="2.75" fill="none" stroke="#ff4646" stroke-width="1.8"/>
<circle cx="1001.3" cy="276" r="2.75" fill="none" stroke="#ff4646" stroke-width="1.8"/>
<circle cx="1009.2" cy="279.8" r="2.75" fill="none" stroke="#ff4646" stroke-width="1.8"/>
<circle cx="1017.1" cy="279.8" r="2.75" fill="none" stroke="#ff4646" stroke-width="1.8"/>
<circle cx="1025" cy="277.5" r="2.75" fill="none" stroke="#ff4646" stroke-width="1.8"/>
<circle cx="1033" cy="278.5" r="2.75" fill="none" stroke="#ff4646" stroke-width="1.8"/>
<circle cx="1040.9" cy="280" r="2.75" fill="none" stroke="#ff4646" stroke-width="1.8"/>
<circle cx="1056.8" cy="283.8" r="2.75" fill="none" stroke="#ff4646" stroke-width="1.8"/>
<circle cx="1064.7" cy="277.5" r="2.75" fill="none" stroke="#ff4646" stroke-width="1.8"/>
<circle cx="1072.6" cy="281.4" r="2.75" fill="none" stroke="#ff4646" stroke-width="1.8"/>
<circle cx="1080.5" cy="281.4" r="2.75" fill="none" stroke="#ff4646" stroke-width="1.8"/>
<circle cx="1088.5" cy="279.8" r="2.75" fill="none" stroke="#ff4646" stroke-width="1.8"/>
<circle cx="1096.4" cy="283.8" r="2.75" fill="none" stroke="#ff4646" stroke-width="1.8"/>
<circle cx="1104.3" cy="286.9" r="2.75" fill="none" stroke="#ff4646" stroke-width="1.8"/>
<circle cx="1112.2" cy="282.2" r="2.75" fill="none" stroke="#ff4646" stroke-width="1.8"/>
<circle cx="1120.2" cy="286.1" r="2.75" fill="none" stroke="#ff4646" stroke-width="1.8"/>
<circle cx="1136" cy="285.3" r="2.75" fill="none" stroke="#ff4646" stroke-width="1.8"/>
<circle cx="1143.9" cy="289.2" r="2.75" fill="none" stroke="#ff4646" stroke-width="1.8"/>
<circle cx="1151.8" cy="286.1" r="2.75" fill="none" stroke="#ff4646" stroke-width="1.8"/>
<circle cx="1159.8" cy="286.9" r="2.75" fill="none" stroke="#ff4646" stroke-width="1.8"/>
<circle cx="1167.7" cy="286.9" r="2.75" fill="none" stroke="#ff4646" stroke-width="1.8"/>
<circle cx="1175.6" cy="290" r="2.75" fill="none" stroke="#ff4646" stroke-width="1.8"/>
<circle cx="1183.5" cy="285.3" r="2.75" fill="none" stroke="#ff4646" stroke-width="1.8"/>
<circle cx="1191.5" cy="292.3" r="2.75" fill="none" stroke="#ff4646" stroke-width="1.8"/>
<circle cx="1199.4" cy="286.1" r="2.75" fill="none" stroke="#ff4646" stroke-width="1.8"/>
<circle cx="898.2" cy="249.4" r="3.65" fill="#ff0000"/>
<circle cx="906.2" cy="250.9" r="3.65" fill="#ff0000"/>
<circle cx="914.1" cy="250.9" r="3.65" fill="#ff0000"/>
<circle cx="922" cy="252.5" r="3.65" fill="#ff0000"/>
<circle cx="929.9" cy="252.5" r="3.65" fill="#ff0000"/>
<circle cx="937.9" cy="252.5" r="3.65" fill="#ff0000"/>
<circle cx="945.8" cy="252.5" r="3.65" fill="#ff0000"/>
<circle cx="953.7" cy="254.8" r="3.65" fill="#ff0000"/>
<circle cx="961.6" cy="255.6" r="3.65" fill="#ff0000"/>
<circle cx="977.5" cy="247" r="3.65" fill="#ff0000"/>
<circle cx="985.4" cy="252.5" r="3.65" fill="#ff0000"/>
<circle cx="993.4" cy="251.7" r="3.65" fill="#ff0000"/>
<circle cx="1001.3" cy="254.8" r="3.65" fill="#ff0000"/>
<circle cx="1009.2" cy="255.6" r="3.65" fill="#ff0000"/>
<circle cx="1017.1" cy="253.3" r="3.65" fill="#ff0000"/>
<circle cx="1025" cy="250.9" r="3.65" fill="#ff0000"/>
<circle cx="1033" cy="252.5" r="3.65" fill="#ff0000"/>
<circle cx="1040.9" cy="256.4" r="3.65" fill="#ff0000"/>
<circle cx="1056.8" cy="255.6" r="3.65" fill="#ff0000"/>
<circle cx="1064.7" cy="258" r="3.65" fill="#ff0000"/>
<circle cx="1072.6" cy="255.6" r="3.65" fill="#ff0000"/>
<circle cx="1080.5" cy="256" r="3.65" fill="#ff0000"/>
<circle cx="1088.5" cy="254.8" r="3.65" fill="#ff0000"/>
<circle cx="1096.4" cy="258.8" r="3.65" fill="#ff0000"/>
<circle cx="1104.3" cy="255.6" r="3.65" fill="#ff0000"/>
<circle cx="1112.2" cy="257.2" r="3.65" fill="#ff0000"/>
<circle cx="1120.2" cy="259.5" r="3.65" fill="#ff0000"/>
<circle cx="1136" cy="259.5" r="3.65" fill="#ff0000"/>
<circle cx="1143.9" cy="261.9" r="3.65" fill="#ff0000"/>
<circle cx="1151.8" cy="263.4" r="3.65" fill="#ff0000"/>
<circle cx="1159.8" cy="262.7" r="3.65" fill="#ff0000"/>
<circle cx="1167.7" cy="262.7" r="3.65" fill="#ff0000"/>
<circle cx="1175.6" cy="264.2" r="3.65" fill="#ff0000"/>
<circle cx="1183.5" cy="259.5" r="3.65" fill="#ff0000"/>
<circle cx="1191.5" cy="261.1" r="3.65" fill="#ff0000"/>
<circle cx="1199.4" cy="263.4" r="3.65" fill="#ff0000"/>
<circle cx="890.3" cy="261" r="2.75" fill="none" stroke="#5050ff" stroke-width="1.8"/>
<circle cx="898.2" cy="261.6" r="2.75" fill="none" stroke="#5050ff" stroke-width="1.8"/>
<circle cx="906.2" cy="262.2" r="2.75" fill="none" stroke="#5050ff" stroke-width="1.8"/>
<circle cx="914.1" cy="262.9" r="2.75" fill="none" stroke="#5050ff" stroke-width="1.8"/>
<circle cx="922" cy="263.5" r="2.75" fill="none" stroke="#5050ff" stroke-width="1.8"/>
<circle cx="929.9" cy="264.1" r="2.75" fill="none" stroke="#5050ff" stroke-width="1.8"/>
<circle cx="937.9" cy="264.8" r="2.75" fill="none" stroke="#5050ff" stroke-width="1.8"/>
<circle cx="945.8" cy="265.4" r="2.75" fill="none" stroke="#5050ff" stroke-width="1.8"/>
<circle cx="953.7" cy="266" r="2.75" fill="none" stroke="#5050ff" stroke-width="1.8"/>
<circle cx="969.6" cy="270" r="2.75" fill="none" stroke="#5050ff" stroke-width="1.8"/>
<circle cx="977.5" cy="270.1" r="2.75" fill="none" stroke="#5050ff" stroke-width="1.8"/>
<circle cx="985.4" cy="270.2" r="2.75" fill="none" stroke="#5050ff" stroke-width="1.8"/>
<circle cx="993.4" cy="270.4" r="2.75" fill="none" stroke="#5050ff" stroke-width="1.8"/>
<circle cx="1001.3" cy="270.5" r="2.75" fill="none" stroke="#5050ff" stroke-width="1.8"/>
<circle cx="1009.2" cy="270.6" r="2.75" fill="none" stroke="#5050ff" stroke-width="1.8"/>
<circle cx="1017.1" cy="270.8" r="2.75" fill="none" stroke="#5050ff" stroke-width="1.8"/>
<circle cx="1025" cy="270.9" r="2.75" fill="none" stroke="#5050ff" stroke-width="1.8"/>
<circle cx="1033" cy="271" r="2.75" fill="none" stroke="#5050ff" stroke-width="1.8"/>
<circle cx="1048.8" cy="275" r="2.75" fill="none" stroke="#5050ff" stroke-width="1.8"/>
<circle cx="1056.8" cy="275.2" r="2.75" fill="none" stroke="#5050ff" stroke-width="1.8"/>
<circle cx="1064.7" cy="275.4" r="2.75" fill="none" stroke="#5050ff" stroke-width="1.8"/>
<circle cx="1072.6" cy="275.6" r="2.75" fill="none" stroke="#5050ff" stroke-width="1.8"/>
<circle cx="1080.5" cy="275.9" r="2.75" fill="none" stroke="#5050ff" stroke-width="1.8"/>
<circle cx="1088.5" cy="276.1" r="2.75" fill="none" stroke="#5050ff" stroke-width="1.8"/>
<circle cx="1096.4" cy="276.3" r="2.75" fill="none" stroke="#5050ff" stroke-width="1.8"/>
<circle cx="1104.3" cy="276.5" r="2.75" fill="none" stroke="#5050ff" stroke-width="1.8"/>
<circle cx="1112.2" cy="276.7" r="2.75" fill="none" stroke="#5050ff" stroke-width="1.8"/>
<circle cx="1128.1" cy="282.2" r="2.75" fill="none" stroke="#5050ff" stroke-width="1.8"/>
<circle cx="1136" cy="281.4" r="2.75" fill="none" stroke="#5050ff" stroke-width="1.8"/>
<circle cx="1143.9" cy="281.8" r="2.75" fill="none" stroke="#5050ff" stroke-width="1.8"/>
<circle cx="1151.8" cy="282.3" r="2.75" fill="none" stroke="#5050ff" stroke-width="1.8"/>
<circle cx="1159.8" cy="282.7" r="2.75" fill="none" stroke="#5050ff" stroke-width="1.8"/>
<circle cx="1167.7" cy="283.2" r="2.75" fill="none" stroke="#5050ff" stroke-width="1.8"/>
<circle cx="1175.6" cy="283.6" r="2.75" fill="none" stroke="#5050ff" stroke-width="1.8"/>
<circle cx="1183.5" cy="284.1" r="2.75" fill="none" stroke="#5050ff" stroke-width="1.8"/>
<circle cx="1191.5" cy="284.5" r="2.75" fill="none" stroke="#5050ff" stroke-width="1.8"/>
<circle cx="890.3" cy="258.8" r="3.65" fill="#0000ff"/>
<circle cx="898.2" cy="259.5" r="3.65" fill="#0000ff"/>
<circle cx="906.2" cy="261.9" r="3.65" fill="#0000ff"/>
<circle cx="914.1" cy="261.9" r="3.65" fill="#0000ff"/>
<circle cx="922" cy="262.7" r="3.65" fill="#0000ff"/>
<circle cx="929.9" cy="263.4" r="3.65" fill="#0000ff"/>
<circle cx="937.9" cy="263.4" r="3.65" fill="#0000ff"/>
<circle cx="945.8" cy="268" r="3.65" fill="#0000ff"/>
<circle cx="953.7" cy="265" r="3.65" fill="#0000ff"/>
<circle cx="969.6" cy="267.3" r="3.65" fill="#0000ff"/>
<circle cx="977.5" cy="267.3" r="3.65" fill="#0000ff"/>
<circle cx="985.4" cy="267.3" r="3.65" fill="#0000ff"/>
<circle cx="993.4" cy="267.3" r="3.65" fill="#0000ff"/>
<circle cx="1001.3" cy="267.3" r="3.65" fill="#0000ff"/>
<circle cx="1009.2" cy="267.3" r="3.65" fill="#0000ff"/>
<circle cx="1017.1" cy="267.3" r="3.65" fill="#0000ff"/>
<circle cx="1025" cy="267.3" r="3.65" fill="#0000ff"/>
<circle cx="1033" cy="267.3" r="3.65" fill="#0000ff"/>
<circle cx="1048.8" cy="270.5" r="3.65" fill="#0000ff"/>
<circle cx="1056.8" cy="270.5" r="3.65" fill="#0000ff"/>
<circle cx="1064.7" cy="272.8" r="3.65" fill="#0000ff"/>
<circle cx="1072.6" cy="271.2" r="3.65" fill="#0000ff"/>
<circle cx="1080.5" cy="272" r="3.65" fill="#0000ff"/>
<circle cx="1088.5" cy="272" r="3.65" fill="#0000ff"/>
<circle cx="1096.4" cy="272" r="3.65" fill="#0000ff"/>
<circle cx="1104.3" cy="272" r="3.65" fill="#0000ff"/>
<circle cx="1112.2" cy="272" r="3.65" fill="#0000ff"/>
<circle cx="1128.1" cy="277.5" r="3.65" fill="#0000ff"/>
<circle cx="1136" cy="276.7" r="3.65" fill="#0000ff"/>
<circle cx="1143.9" cy="276.9" r="3.65" fill="#0000ff"/>
<circle cx="1151.8" cy="277.2" r="3.65" fill="#0000ff"/>
<circle cx="1159.8" cy="277.4" r="3.65" fill="#0000ff"/>
<circle cx="1167.7" cy="277.6" r="3.65" fill="#0000ff"/>
<circle cx="1175.6" cy="277.8" r="3.65" fill="#0000ff"/>
<circle cx="1183.5" cy="278.1" r="3.65" fill="#0000ff"/>
<circle cx="1191.5" cy="278.3" r="3.65" fill="#0000ff"/>
<circle cx="929.9" cy="272.8" r="2.75" fill="none" stroke="#484848" stroke-width="1.8"/>
<circle cx="937.9" cy="276.7" r="2.75" fill="none" stroke="#484848" stroke-width="1.8"/>
<circle cx="945.8" cy="278.3" r="2.75" fill="none" stroke="#484848" stroke-width="1.8"/>
<circle cx="953.7" cy="279" r="2.75" fill="none" stroke="#484848" stroke-width="1.8"/>
<circle cx="961.6" cy="281.4" r="2.75" fill="none" stroke="#484848" stroke-width="1.8"/>
<circle cx="969.6" cy="283" r="2.75" fill="none" stroke="#484848" stroke-width="1.8"/>
<circle cx="977.5" cy="284.5" r="2.75" fill="none" stroke="#484848" stroke-width="1.8"/>
<circle cx="985.4" cy="286" r="2.75" fill="none" stroke="#484848" stroke-width="1.8"/>
<circle cx="993.4" cy="286.9" r="2.75" fill="none" stroke="#484848" stroke-width="1.8"/>
<circle cx="1001.3" cy="286.9" r="2.75" fill="none" stroke="#484848" stroke-width="1.8"/>
<circle cx="1009.2" cy="288.4" r="2.75" fill="none" stroke="#484848" stroke-width="1.8"/>
<circle cx="1017.1" cy="289.2" r="2.75" fill="none" stroke="#484848" stroke-width="1.8"/>
<circle cx="1025" cy="290.8" r="2.75" fill="none" stroke="#484848" stroke-width="1.8"/>
<circle cx="1033" cy="292.3" r="2.75" fill="none" stroke="#484848" stroke-width="1.8"/>
<circle cx="1040.9" cy="293.9" r="2.75" fill="none" stroke="#484848" stroke-width="1.8"/>
<circle cx="1048.8" cy="303.3" r="2.75" fill="none" stroke="#484848" stroke-width="1.8"/>
<circle cx="1056.8" cy="306.4" r="2.75" fill="none" stroke="#484848" stroke-width="1.8"/>
<circle cx="1064.7" cy="308.8" r="2.75" fill="none" stroke="#484848" stroke-width="1.8"/>
<circle cx="1072.6" cy="311.9" r="2.75" fill="none" stroke="#484848" stroke-width="1.8"/>
<circle cx="1080.5" cy="315" r="2.75" fill="none" stroke="#484848" stroke-width="1.8"/>
<circle cx="1088.5" cy="318.9" r="2.75" fill="none" stroke="#484848" stroke-width="1.8"/>
<circle cx="1096.4" cy="322" r="2.75" fill="none" stroke="#484848" stroke-width="1.8"/>
<circle cx="1104.3" cy="326.7" r="2.75" fill="none" stroke="#484848" stroke-width="1.8"/>
<circle cx="1112.2" cy="329" r="2.75" fill="none" stroke="#484848" stroke-width="1.8"/>
<circle cx="1120.2" cy="332.2" r="2.75" fill="none" stroke="#484848" stroke-width="1.8"/>
<circle cx="1128.1" cy="340" r="2.75" fill="none" stroke="#484848" stroke-width="1.8"/>
<circle cx="1136" cy="344.7" r="2.75" fill="none" stroke="#484848" stroke-width="1.8"/>
<circle cx="1143.9" cy="346.2" r="2.75" fill="none" stroke="#484848" stroke-width="1.8"/>
<circle cx="1151.8" cy="348.6" r="2.75" fill="none" stroke="#484848" stroke-width="1.8"/>
<circle cx="1159.8" cy="350.2" r="2.75" fill="none" stroke="#484848" stroke-width="1.8"/>
<circle cx="1167.7" cy="352.5" r="2.75" fill="none" stroke="#484848" stroke-width="1.8"/>
<circle cx="1175.6" cy="354.8" r="2.75" fill="none" stroke="#484848" stroke-width="1.8"/>
<circle cx="1183.5" cy="357.2" r="2.75" fill="none" stroke="#484848" stroke-width="1.8"/>
<circle cx="1191.5" cy="358.8" r="2.75" fill="none" stroke="#484848" stroke-width="1.8"/>
<circle cx="1199.4" cy="360.3" r="2.75" fill="none" stroke="#484848" stroke-width="1.8"/>
<circle cx="929.9" cy="256.4" r="3.65" fill="#000"/>
<circle cx="937.9" cy="258.8" r="3.65" fill="#000"/>
<circle cx="945.8" cy="259.5" r="3.65" fill="#000"/>
<circle cx="953.7" cy="260.3" r="3.65" fill="#000"/>
<circle cx="961.6" cy="262.7" r="3.65" fill="#000"/>
<circle cx="969.6" cy="265" r="3.65" fill="#000"/>
<circle cx="977.5" cy="266.6" r="3.65" fill="#000"/>
<circle cx="985.4" cy="267.3" r="3.65" fill="#000"/>
<circle cx="993.4" cy="268.1" r="3.65" fill="#000"/>
<circle cx="1001.3" cy="269.7" r="3.65" fill="#000"/>
<circle cx="1009.2" cy="271.2" r="3.65" fill="#000"/>
<circle cx="1017.1" cy="272" r="3.65" fill="#000"/>
<circle cx="1025" cy="273.6" r="3.65" fill="#000"/>
<circle cx="1033" cy="276.7" r="3.65" fill="#000"/>
<circle cx="1040.9" cy="278.3" r="3.65" fill="#000"/>
<circle cx="1048.8" cy="289.2" r="3.65" fill="#000"/>
<circle cx="1056.8" cy="292.3" r="3.65" fill="#000"/>
<circle cx="1064.7" cy="294.7" r="3.65" fill="#000"/>
<circle cx="1072.6" cy="298.6" r="3.65" fill="#000"/>
<circle cx="1080.5" cy="303.3" r="3.65" fill="#000"/>
<circle cx="1088.5" cy="306.4" r="3.65" fill="#000"/>
<circle cx="1096.4" cy="311.1" r="3.65" fill="#000"/>
<circle cx="1104.3" cy="314.2" r="3.65" fill="#000"/>
<circle cx="1112.2" cy="317.3" r="3.65" fill="#000"/>
<circle cx="1120.2" cy="321.2" r="3.65" fill="#000"/>
<circle cx="1128.1" cy="329.8" r="3.65" fill="#000"/>
<circle cx="1136" cy="333" r="3.65" fill="#000"/>
<circle cx="1143.9" cy="335.3" r="3.65" fill="#000"/>
<circle cx="1151.8" cy="338.4" r="3.65" fill="#000"/>
<circle cx="1159.8" cy="340.8" r="3.65" fill="#000"/>
<circle cx="1167.7" cy="342.3" r="3.65" fill="#000"/>
<circle cx="1175.6" cy="345.5" r="3.65" fill="#000"/>
<circle cx="1183.5" cy="347.8" r="3.65" fill="#000"/>
<circle cx="1191.5" cy="349.4" r="3.65" fill="#000"/>
<circle cx="1199.4" cy="351.7" r="3.65" fill="#000"/>
</g>
<g clip-path="url(#cb)">
<circle cx="106.2" cy="766.7" r="2.75" fill="none" stroke="#ff4646" stroke-width="1.8"/>
<circle cx="114.2" cy="771.4" r="2.75" fill="none" stroke="#ff4646" stroke-width="1.8"/>
<circle cx="122.1" cy="779.2" r="2.75" fill="none" stroke="#ff4646" stroke-width="1.8"/>
<circle cx="130" cy="780" r="2.75" fill="none" stroke="#ff4646" stroke-width="1.8"/>
<circle cx="137.9" cy="781.6" r="2.75" fill="none" stroke="#ff4646" stroke-width="1.8"/>
<circle cx="145.9" cy="783.1" r="2.75" fill="none" stroke="#ff4646" stroke-width="1.8"/>
<circle cx="153.8" cy="785.5" r="2.75" fill="none" stroke="#ff4646" stroke-width="1.8"/>
<circle cx="161.7" cy="788.6" r="2.75" fill="none" stroke="#ff4646" stroke-width="1.8"/>
<circle cx="169.7" cy="798.8" r="2.75" fill="none" stroke="#ff4646" stroke-width="1.8"/>
<circle cx="185.5" cy="803.6" r="2.75" fill="none" stroke="#ff4646" stroke-width="1.8"/>
<circle cx="217.2" cy="807.8" r="2.75" fill="none" stroke="#ff4646" stroke-width="1.8"/>
<circle cx="233.1" cy="808.1" r="2.75" fill="none" stroke="#ff4646" stroke-width="1.8"/>
<circle cx="248.9" cy="809.5" r="2.75" fill="none" stroke="#ff4646" stroke-width="1.8"/>
<circle cx="264.8" cy="820.6" r="2.75" fill="none" stroke="#ff4646" stroke-width="1.8"/>
<circle cx="272.7" cy="833.1" r="2.75" fill="none" stroke="#ff4646" stroke-width="1.8"/>
<circle cx="280.6" cy="842.4" r="2.75" fill="none" stroke="#ff4646" stroke-width="1.8"/>
<circle cx="288.5" cy="851" r="2.75" fill="none" stroke="#ff4646" stroke-width="1.8"/>
<circle cx="296.4" cy="891.6" r="2.75" fill="none" stroke="#ff4646" stroke-width="1.8"/>
<circle cx="106.2" cy="776.1" r="3.65" fill="#ff0000"/>
<circle cx="114.2" cy="780" r="3.65" fill="#ff0000"/>
<circle cx="122.1" cy="791.7" r="3.65" fill="#ff0000"/>
<circle cx="130" cy="792.5" r="3.65" fill="#ff0000"/>
<circle cx="137.9" cy="794" r="3.65" fill="#ff0000"/>
<circle cx="145.9" cy="797.2" r="3.65" fill="#ff0000"/>
<circle cx="153.8" cy="800.3" r="3.65" fill="#ff0000"/>
<circle cx="161.7" cy="801.9" r="3.65" fill="#ff0000"/>
<circle cx="169.7" cy="810.5" r="3.65" fill="#ff0000"/>
<circle cx="185.5" cy="815.2" r="3.65" fill="#ff0000"/>
<circle cx="193.4" cy="808.9" r="3.65" fill="#ff0000"/>
<circle cx="201.4" cy="810.5" r="3.65" fill="#ff0000"/>
<circle cx="209.3" cy="812" r="3.65" fill="#ff0000"/>
<circle cx="217.2" cy="814" r="3.65" fill="#ff0000"/>
<circle cx="225.1" cy="816" r="3.65" fill="#ff0000"/>
<circle cx="233.1" cy="817.5" r="3.65" fill="#ff0000"/>
<circle cx="241" cy="817.5" r="3.65" fill="#ff0000"/>
<circle cx="248.9" cy="820.6" r="3.65" fill="#ff0000"/>
<circle cx="264.8" cy="841.3" r="3.65" fill="#ff0000"/>
<circle cx="272.7" cy="857.2" r="3.65" fill="#ff0000"/>
<circle cx="280.6" cy="870.5" r="3.65" fill="#ff0000"/>
<circle cx="288.5" cy="878.3" r="3.65" fill="#ff0000"/>
<circle cx="98.3" cy="757.3" r="2.75" fill="none" stroke="#5050ff" stroke-width="1.8"/>
<circle cx="106.2" cy="760.5" r="2.75" fill="none" stroke="#5050ff" stroke-width="1.8"/>
<circle cx="114.2" cy="762.8" r="2.75" fill="none" stroke="#5050ff" stroke-width="1.8"/>
<circle cx="122.1" cy="764.4" r="2.75" fill="none" stroke="#5050ff" stroke-width="1.8"/>
<circle cx="130" cy="765.9" r="2.75" fill="none" stroke="#5050ff" stroke-width="1.8"/>
<circle cx="137.9" cy="767.5" r="2.75" fill="none" stroke="#5050ff" stroke-width="1.8"/>
<circle cx="145.9" cy="769" r="2.75" fill="none" stroke="#5050ff" stroke-width="1.8"/>
<circle cx="153.8" cy="773.8" r="2.75" fill="none" stroke="#5050ff" stroke-width="1.8"/>
<circle cx="161.7" cy="771.4" r="2.75" fill="none" stroke="#5050ff" stroke-width="1.8"/>
<circle cx="177.6" cy="774.5" r="2.75" fill="none" stroke="#5050ff" stroke-width="1.8"/>
<circle cx="185.5" cy="775.3" r="2.75" fill="none" stroke="#5050ff" stroke-width="1.8"/>
<circle cx="193.4" cy="776.1" r="2.75" fill="none" stroke="#5050ff" stroke-width="1.8"/>
<circle cx="201.4" cy="776.9" r="2.75" fill="none" stroke="#5050ff" stroke-width="1.8"/>
<circle cx="209.3" cy="777.7" r="2.75" fill="none" stroke="#5050ff" stroke-width="1.8"/>
<circle cx="217.2" cy="779.2" r="2.75" fill="none" stroke="#5050ff" stroke-width="1.8"/>
<circle cx="225.1" cy="780" r="2.75" fill="none" stroke="#5050ff" stroke-width="1.8"/>
<circle cx="233.1" cy="781.6" r="2.75" fill="none" stroke="#5050ff" stroke-width="1.8"/>
<circle cx="241" cy="782.3" r="2.75" fill="none" stroke="#5050ff" stroke-width="1.8"/>
<circle cx="256.8" cy="784.7" r="2.75" fill="none" stroke="#5050ff" stroke-width="1.8"/>
<circle cx="264.8" cy="786.2" r="2.75" fill="none" stroke="#5050ff" stroke-width="1.8"/>
<circle cx="272.7" cy="788.6" r="2.75" fill="none" stroke="#5050ff" stroke-width="1.8"/>
<circle cx="280.6" cy="788.2" r="2.75" fill="none" stroke="#5050ff" stroke-width="1.8"/>
<circle cx="288.5" cy="789" r="2.75" fill="none" stroke="#5050ff" stroke-width="1.8"/>
<circle cx="296.4" cy="792" r="2.75" fill="none" stroke="#5050ff" stroke-width="1.8"/>
<circle cx="304.4" cy="793.6" r="2.75" fill="none" stroke="#5050ff" stroke-width="1.8"/>
<circle cx="312.3" cy="797.6" r="2.75" fill="none" stroke="#5050ff" stroke-width="1.8"/>
<circle cx="320.2" cy="803" r="2.75" fill="none" stroke="#5050ff" stroke-width="1.8"/>
<circle cx="336.1" cy="799.9" r="2.75" fill="none" stroke="#5050ff" stroke-width="1.8"/>
<circle cx="344" cy="806.2" r="2.75" fill="none" stroke="#5050ff" stroke-width="1.8"/>
<circle cx="351.9" cy="811.6" r="2.75" fill="none" stroke="#5050ff" stroke-width="1.8"/>
<circle cx="359.9" cy="814" r="2.75" fill="none" stroke="#5050ff" stroke-width="1.8"/>
<circle cx="367.8" cy="814.8" r="2.75" fill="none" stroke="#5050ff" stroke-width="1.8"/>
<circle cx="375.7" cy="816.3" r="2.75" fill="none" stroke="#5050ff" stroke-width="1.8"/>
<circle cx="383.6" cy="818.7" r="2.75" fill="none" stroke="#5050ff" stroke-width="1.8"/>
<circle cx="391.5" cy="822" r="2.75" fill="none" stroke="#5050ff" stroke-width="1.8"/>
<circle cx="399.5" cy="836.7" r="2.75" fill="none" stroke="#5050ff" stroke-width="1.8"/>
<circle cx="98.3" cy="777.7" r="3.65" fill="#0000ff"/>
<circle cx="106.2" cy="781.6" r="3.65" fill="#0000ff"/>
<circle cx="114.2" cy="783.9" r="3.65" fill="#0000ff"/>
<circle cx="122.1" cy="785.5" r="3.65" fill="#0000ff"/>
<circle cx="130" cy="787" r="3.65" fill="#0000ff"/>
<circle cx="137.9" cy="788.6" r="3.65" fill="#0000ff"/>
<circle cx="145.9" cy="790.2" r="3.65" fill="#0000ff"/>
<circle cx="153.8" cy="796.4" r="3.65" fill="#0000ff"/>
<circle cx="161.7" cy="792.5" r="3.65" fill="#0000ff"/>
<circle cx="177.6" cy="797.2" r="3.65" fill="#0000ff"/>
<circle cx="185.5" cy="797.2" r="3.65" fill="#0000ff"/>
<circle cx="193.4" cy="798" r="3.65" fill="#0000ff"/>
<circle cx="201.4" cy="798.8" r="3.65" fill="#0000ff"/>
<circle cx="209.3" cy="801.1" r="3.65" fill="#0000ff"/>
<circle cx="217.2" cy="801.9" r="3.65" fill="#0000ff"/>
<circle cx="225.1" cy="802.7" r="3.65" fill="#0000ff"/>
<circle cx="233.1" cy="804.2" r="3.65" fill="#0000ff"/>
<circle cx="241" cy="805" r="3.65" fill="#0000ff"/>
<circle cx="256.8" cy="807.3" r="3.65" fill="#0000ff"/>
<circle cx="264.8" cy="808.1" r="3.65" fill="#0000ff"/>
<circle cx="272.7" cy="812" r="3.65" fill="#0000ff"/>
<circle cx="280.6" cy="810.5" r="3.65" fill="#0000ff"/>
<circle cx="288.5" cy="811.2" r="3.65" fill="#0000ff"/>
<circle cx="296.4" cy="812" r="3.65" fill="#0000ff"/>
<circle cx="304.4" cy="813" r="3.65" fill="#0000ff"/>
<circle cx="312.3" cy="814" r="3.65" fill="#0000ff"/>
<circle cx="320.2" cy="815.6" r="3.65" fill="#0000ff"/>
<circle cx="336.1" cy="820.2" r="3.65" fill="#0000ff"/>
<circle cx="344" cy="820.2" r="3.65" fill="#0000ff"/>
<circle cx="351.9" cy="821.8" r="3.65" fill="#0000ff"/>
<circle cx="359.9" cy="821.8" r="3.65" fill="#0000ff"/>
<circle cx="367.8" cy="822.6" r="3.65" fill="#0000ff"/>
<circle cx="375.7" cy="823.4" r="3.65" fill="#0000ff"/>
<circle cx="383.6" cy="832" r="3.65" fill="#0000ff"/>
<circle cx="391.5" cy="825.7" r="3.65" fill="#0000ff"/>
<circle cx="399.5" cy="825.7" r="3.65" fill="#0000ff"/>
<circle cx="169.7" cy="803" r="2.75" fill="none" stroke="#484848" stroke-width="1.8"/>
<circle cx="177.6" cy="826.1" r="2.75" fill="none" stroke="#484848" stroke-width="1.8"/>
<circle cx="185.5" cy="833.1" r="2.75" fill="none" stroke="#484848" stroke-width="1.8"/>
<circle cx="193.4" cy="844.5" r="2.75" fill="none" stroke="#484848" stroke-width="1.8"/>
<circle cx="201.4" cy="860" r="2.75" fill="none" stroke="#484848" stroke-width="1.8"/>
<circle cx="209.3" cy="886.9" r="2.75" fill="none" stroke="#484848" stroke-width="1.8"/>
<circle cx="217.2" cy="922" r="2.75" fill="none" stroke="#484848" stroke-width="1.8"/>
<circle cx="225.1" cy="883" r="2.75" fill="none" stroke="#484848" stroke-width="1.8"/>
<circle cx="233.1" cy="891.6" r="2.75" fill="none" stroke="#484848" stroke-width="1.8"/>
<circle cx="241" cy="893.9" r="2.75" fill="none" stroke="#484848" stroke-width="1.8"/>
<circle cx="248.9" cy="895.5" r="2.75" fill="none" stroke="#484848" stroke-width="1.8"/>
<circle cx="256.8" cy="899.4" r="2.75" fill="none" stroke="#484848" stroke-width="1.8"/>
<circle cx="264.8" cy="918" r="2.75" fill="none" stroke="#484848" stroke-width="1.8"/>
<circle cx="272.7" cy="922.8" r="2.75" fill="none" stroke="#484848" stroke-width="1.8"/>
<circle cx="280.6" cy="929" r="2.75" fill="none" stroke="#484848" stroke-width="1.8"/>
<circle cx="288.5" cy="921.2" r="2.75" fill="none" stroke="#484848" stroke-width="1.8"/>
<circle cx="296.4" cy="918" r="2.75" fill="none" stroke="#484848" stroke-width="1.8"/>
<circle cx="304.4" cy="921.2" r="2.75" fill="none" stroke="#484848" stroke-width="1.8"/>
<circle cx="312.3" cy="945.5" r="2.75" fill="none" stroke="#484848" stroke-width="1.8"/>
<circle cx="328.1" cy="941.6" r="2.75" fill="none" stroke="#484848" stroke-width="1.8"/>
<circle cx="336.1" cy="949.4" r="2.75" fill="none" stroke="#484848" stroke-width="1.8"/>
<circle cx="137.9" cy="749.5" r="3.65" fill="#000"/>
<circle cx="145.9" cy="753.4" r="3.65" fill="#000"/>
<circle cx="153.8" cy="755.8" r="3.65" fill="#000"/>
<circle cx="161.7" cy="761.2" r="3.65" fill="#000"/>
<circle cx="169.7" cy="769" r="3.65" fill="#000"/>
<circle cx="177.6" cy="793.3" r="3.65" fill="#000"/>
<circle cx="185.5" cy="796.4" r="3.65" fill="#000"/>
<circle cx="193.4" cy="801.9" r="3.65" fill="#000"/>
<circle cx="201.4" cy="806.6" r="3.65" fill="#000"/>
<circle cx="209.3" cy="812.8" r="3.65" fill="#000"/>
<circle cx="217.2" cy="818.3" r="3.65" fill="#000"/>
<circle cx="225.1" cy="823.8" r="3.65" fill="#000"/>
<circle cx="233.1" cy="828.4" r="3.65" fill="#000"/>
<circle cx="241" cy="832.3" r="3.65" fill="#000"/>
<circle cx="248.9" cy="837" r="3.65" fill="#000"/>
<circle cx="256.8" cy="846.7" r="3.65" fill="#000"/>
<circle cx="264.8" cy="849.5" r="3.65" fill="#000"/>
<circle cx="272.7" cy="851.8" r="3.65" fill="#000"/>
<circle cx="280.6" cy="854.9" r="3.65" fill="#000"/>
<circle cx="288.5" cy="853.3" r="3.65" fill="#000"/>
<circle cx="296.4" cy="860.3" r="3.65" fill="#000"/>
<circle cx="304.4" cy="862.9" r="3.65" fill="#000"/>
<circle cx="312.3" cy="866" r="3.65" fill="#000"/>
<circle cx="320.2" cy="868.4" r="3.65" fill="#000"/>
<circle cx="328.1" cy="872" r="3.65" fill="#000"/>
<circle cx="336.1" cy="878" r="3.65" fill="#000"/>
<circle cx="344" cy="881.3" r="3.65" fill="#000"/>
<circle cx="351.9" cy="883.4" r="3.65" fill="#000"/>
<circle cx="359.9" cy="886" r="3.65" fill="#000"/>
<circle cx="367.8" cy="888.3" r="3.65" fill="#000"/>
<circle cx="375.7" cy="890.7" r="3.65" fill="#000"/>
<circle cx="383.6" cy="893" r="3.65" fill="#000"/>
<circle cx="391.5" cy="894.6" r="3.65" fill="#000"/>
<circle cx="399.5" cy="897.7" r="3.65" fill="#000"/>
<circle cx="407.4" cy="899.3" r="3.65" fill="#000"/>
</g>
<g clip-path="url(#cb)">
<circle cx="502.5" cy="719.5" r="2.75" fill="none" stroke="#ff4646" stroke-width="1.8"/>
<circle cx="510.4" cy="732.7" r="2.75" fill="none" stroke="#ff4646" stroke-width="1.8"/>
<circle cx="518.3" cy="743.2" r="2.75" fill="none" stroke="#ff4646" stroke-width="1.8"/>
<circle cx="526.2" cy="752.9" r="2.75" fill="none" stroke="#ff4646" stroke-width="1.8"/>
<circle cx="534.1" cy="760.8" r="2.75" fill="none" stroke="#ff4646" stroke-width="1.8"/>
<circle cx="542.1" cy="767" r="2.75" fill="none" stroke="#ff4646" stroke-width="1.8"/>
<circle cx="550" cy="774.9" r="2.75" fill="none" stroke="#ff4646" stroke-width="1.8"/>
<circle cx="557.9" cy="781" r="2.75" fill="none" stroke="#ff4646" stroke-width="1.8"/>
<circle cx="565.9" cy="787.5" r="2.75" fill="none" stroke="#ff4646" stroke-width="1.8"/>
<circle cx="573.8" cy="793" r="2.75" fill="none" stroke="#ff4646" stroke-width="1.8"/>
<circle cx="581.7" cy="798.5" r="2.75" fill="none" stroke="#ff4646" stroke-width="1.8"/>
<circle cx="589.6" cy="803.8" r="2.75" fill="none" stroke="#ff4646" stroke-width="1.8"/>
<circle cx="597.6" cy="809.2" r="2.75" fill="none" stroke="#ff4646" stroke-width="1.8"/>
<circle cx="605.5" cy="819.9" r="2.75" fill="none" stroke="#ff4646" stroke-width="1.8"/>
<circle cx="613.4" cy="826.1" r="2.75" fill="none" stroke="#ff4646" stroke-width="1.8"/>
<circle cx="621.3" cy="832.3" r="2.75" fill="none" stroke="#ff4646" stroke-width="1.8"/>
<circle cx="629.2" cy="838.6" r="2.75" fill="none" stroke="#ff4646" stroke-width="1.8"/>
<circle cx="637.2" cy="854" r="2.75" fill="none" stroke="#ff4646" stroke-width="1.8"/>
<circle cx="645.1" cy="854.4" r="2.75" fill="none" stroke="#ff4646" stroke-width="1.8"/>
<circle cx="661" cy="917.2" r="2.75" fill="none" stroke="#ff4646" stroke-width="1.8"/>
<circle cx="668.9" cy="912.4" r="2.75" fill="none" stroke="#ff4646" stroke-width="1.8"/>
<circle cx="676.8" cy="909.8" r="2.75" fill="none" stroke="#ff4646" stroke-width="1.8"/>
<circle cx="684.7" cy="918.6" r="2.75" fill="none" stroke="#ff4646" stroke-width="1.8"/>
<circle cx="700.6" cy="929.8" r="2.75" fill="none" stroke="#ff4646" stroke-width="1.8"/>
<circle cx="502.5" cy="638.5" r="3.65" fill="#ff0000"/>
<circle cx="510.4" cy="652.6" r="3.65" fill="#ff0000"/>
<circle cx="518.3" cy="665.8" r="3.65" fill="#ff0000"/>
<circle cx="526.2" cy="674.6" r="3.65" fill="#ff0000"/>
<circle cx="534.1" cy="684.3" r="3.65" fill="#ff0000"/>
<circle cx="542.1" cy="690.4" r="3.65" fill="#ff0000"/>
<circle cx="550" cy="703.6" r="3.65" fill="#ff0000"/>
<circle cx="557.9" cy="704.5" r="3.65" fill="#ff0000"/>
<circle cx="565.9" cy="715.1" r="3.65" fill="#ff0000"/>
<circle cx="581.7" cy="743.2" r="3.65" fill="#ff0000"/>
<circle cx="589.6" cy="779" r="3.65" fill="#ff0000"/>
<circle cx="597.6" cy="891.1" r="3.65" fill="#ff0000"/>
<circle cx="676.8" cy="908.8" r="3.65" fill="#ff0000"/>
<circle cx="494.5" cy="672" r="2.75" fill="none" stroke="#5050ff" stroke-width="1.8"/>
<circle cx="502.5" cy="680.7" r="2.75" fill="none" stroke="#5050ff" stroke-width="1.8"/>
<circle cx="510.4" cy="687.8" r="2.75" fill="none" stroke="#5050ff" stroke-width="1.8"/>
<circle cx="518.3" cy="694.8" r="2.75" fill="none" stroke="#5050ff" stroke-width="1.8"/>
<circle cx="526.2" cy="700.1" r="2.75" fill="none" stroke="#5050ff" stroke-width="1.8"/>
<circle cx="534.1" cy="706.3" r="2.75" fill="none" stroke="#5050ff" stroke-width="1.8"/>
<circle cx="542.1" cy="711.5" r="2.75" fill="none" stroke="#5050ff" stroke-width="1.8"/>
<circle cx="550" cy="716" r="2.75" fill="none" stroke="#5050ff" stroke-width="1.8"/>
<circle cx="557.9" cy="719.5" r="2.75" fill="none" stroke="#5050ff" stroke-width="1.8"/>
<circle cx="573.8" cy="728.3" r="2.75" fill="none" stroke="#5050ff" stroke-width="1.8"/>
<circle cx="581.7" cy="731.8" r="2.75" fill="none" stroke="#5050ff" stroke-width="1.8"/>
<circle cx="589.6" cy="736.2" r="2.75" fill="none" stroke="#5050ff" stroke-width="1.8"/>
<circle cx="597.6" cy="739.7" r="2.75" fill="none" stroke="#5050ff" stroke-width="1.8"/>
<circle cx="605.5" cy="742.4" r="2.75" fill="none" stroke="#5050ff" stroke-width="1.8"/>
<circle cx="613.4" cy="745.9" r="2.75" fill="none" stroke="#5050ff" stroke-width="1.8"/>
<circle cx="621.3" cy="749.4" r="2.75" fill="none" stroke="#5050ff" stroke-width="1.8"/>
<circle cx="629.2" cy="752" r="2.75" fill="none" stroke="#5050ff" stroke-width="1.8"/>
<circle cx="637.2" cy="753.8" r="2.75" fill="none" stroke="#5050ff" stroke-width="1.8"/>
<circle cx="653" cy="760" r="2.75" fill="none" stroke="#5050ff" stroke-width="1.8"/>
<circle cx="661" cy="763.5" r="2.75" fill="none" stroke="#5050ff" stroke-width="1.8"/>
<circle cx="668.9" cy="769.6" r="2.75" fill="none" stroke="#5050ff" stroke-width="1.8"/>
<circle cx="676.8" cy="771.4" r="2.75" fill="none" stroke="#5050ff" stroke-width="1.8"/>
<circle cx="684.7" cy="775.3" r="2.75" fill="none" stroke="#5050ff" stroke-width="1.8"/>
<circle cx="692.6" cy="778.4" r="2.75" fill="none" stroke="#5050ff" stroke-width="1.8"/>
<circle cx="700.6" cy="782.5" r="2.75" fill="none" stroke="#5050ff" stroke-width="1.8"/>
<circle cx="708.5" cy="785.6" r="2.75" fill="none" stroke="#5050ff" stroke-width="1.8"/>
<circle cx="716.4" cy="789.8" r="2.75" fill="none" stroke="#5050ff" stroke-width="1.8"/>
<circle cx="732.3" cy="799.1" r="2.75" fill="none" stroke="#5050ff" stroke-width="1.8"/>
<circle cx="740.2" cy="803.3" r="2.75" fill="none" stroke="#5050ff" stroke-width="1.8"/>
<circle cx="748.1" cy="808.5" r="2.75" fill="none" stroke="#5050ff" stroke-width="1.8"/>
<circle cx="756" cy="813.7" r="2.75" fill="none" stroke="#5050ff" stroke-width="1.8"/>
<circle cx="764" cy="819.9" r="2.75" fill="none" stroke="#5050ff" stroke-width="1.8"/>
<circle cx="771.9" cy="825" r="2.75" fill="none" stroke="#5050ff" stroke-width="1.8"/>
<circle cx="779.8" cy="834.4" r="2.75" fill="none" stroke="#5050ff" stroke-width="1.8"/>
<circle cx="787.8" cy="837.5" r="2.75" fill="none" stroke="#5050ff" stroke-width="1.8"/>
<circle cx="795.7" cy="846.8" r="2.75" fill="none" stroke="#5050ff" stroke-width="1.8"/>
<circle cx="494.5" cy="682.5" r="3.65" fill="#0000ff"/>
<circle cx="502.5" cy="691.3" r="3.65" fill="#0000ff"/>
<circle cx="510.4" cy="699.2" r="3.65" fill="#0000ff"/>
<circle cx="518.3" cy="707.1" r="3.65" fill="#0000ff"/>
<circle cx="526.2" cy="713.3" r="3.65" fill="#0000ff"/>
<circle cx="534.1" cy="719.5" r="3.65" fill="#0000ff"/>
<circle cx="542.1" cy="725.6" r="3.65" fill="#0000ff"/>
<circle cx="550" cy="730" r="3.65" fill="#0000ff"/>
<circle cx="557.9" cy="740.6" r="3.65" fill="#0000ff"/>
<circle cx="573.8" cy="753.8" r="3.65" fill="#0000ff"/>
<circle cx="581.7" cy="760" r="3.65" fill="#0000ff"/>
<circle cx="589.6" cy="769.8" r="3.65" fill="#0000ff"/>
<circle cx="597.6" cy="779.1" r="3.65" fill="#0000ff"/>
<circle cx="605.5" cy="789.8" r="3.65" fill="#0000ff"/>
<circle cx="613.4" cy="800" r="3.65" fill="#0000ff"/>
<circle cx="621.3" cy="819.9" r="3.65" fill="#0000ff"/>
<circle cx="629.2" cy="829.7" r="3.65" fill="#0000ff"/>
<circle cx="637.2" cy="831.4" r="3.65" fill="#0000ff"/>
<circle cx="653" cy="836" r="3.65" fill="#0000ff"/>
<circle cx="661" cy="846.6" r="3.65" fill="#0000ff"/>
<circle cx="668.9" cy="871.6" r="3.65" fill="#0000ff"/>
<circle cx="676.8" cy="878.7" r="3.65" fill="#0000ff"/>
<circle cx="684.7" cy="888.4" r="3.65" fill="#0000ff"/>
<circle cx="692.6" cy="894.7" r="3.65" fill="#0000ff"/>
<circle cx="700.6" cy="901" r="3.65" fill="#0000ff"/>
<circle cx="708.5" cy="911.2" r="3.65" fill="#0000ff"/>
<circle cx="716.4" cy="920.6" r="3.65" fill="#0000ff"/>
<circle cx="526.2" cy="721.2" r="2.75" fill="none" stroke="#484848" stroke-width="1.8"/>
<circle cx="534.1" cy="733.6" r="2.75" fill="none" stroke="#484848" stroke-width="1.8"/>
<circle cx="542.1" cy="746.8" r="2.75" fill="none" stroke="#484848" stroke-width="1.8"/>
<circle cx="550" cy="760.8" r="2.75" fill="none" stroke="#484848" stroke-width="1.8"/>
<circle cx="557.9" cy="770.5" r="2.75" fill="none" stroke="#484848" stroke-width="1.8"/>
<circle cx="565.9" cy="779.3" r="2.75" fill="none" stroke="#484848" stroke-width="1.8"/>
<circle cx="573.8" cy="793.2" r="2.75" fill="none" stroke="#484848" stroke-width="1.8"/>
<circle cx="581.7" cy="798.5" r="2.75" fill="none" stroke="#484848" stroke-width="1.8"/>
<circle cx="589.6" cy="808.3" r="2.75" fill="none" stroke="#484848" stroke-width="1.8"/>
<circle cx="597.6" cy="814.5" r="2.75" fill="none" stroke="#484848" stroke-width="1.8"/>
<circle cx="605.5" cy="819.9" r="2.75" fill="none" stroke="#484848" stroke-width="1.8"/>
<circle cx="613.4" cy="827" r="2.75" fill="none" stroke="#484848" stroke-width="1.8"/>
<circle cx="621.3" cy="832.3" r="2.75" fill="none" stroke="#484848" stroke-width="1.8"/>
<circle cx="629.2" cy="838.6" r="2.75" fill="none" stroke="#484848" stroke-width="1.8"/>
<circle cx="637.2" cy="843.9" r="2.75" fill="none" stroke="#484848" stroke-width="1.8"/>
<circle cx="645.1" cy="849.2" r="2.75" fill="none" stroke="#484848" stroke-width="1.8"/>
<circle cx="653" cy="869.7" r="2.75" fill="none" stroke="#484848" stroke-width="1.8"/>
<circle cx="661" cy="877.5" r="2.75" fill="none" stroke="#484848" stroke-width="1.8"/>
<circle cx="668.9" cy="882" r="2.75" fill="none" stroke="#484848" stroke-width="1.8"/>
<circle cx="676.8" cy="890.4" r="2.75" fill="none" stroke="#484848" stroke-width="1.8"/>
<circle cx="684.7" cy="900" r="2.75" fill="none" stroke="#484848" stroke-width="1.8"/>
<circle cx="692.6" cy="906.6" r="2.75" fill="none" stroke="#484848" stroke-width="1.8"/>
<circle cx="700.6" cy="916" r="2.75" fill="none" stroke="#484848" stroke-width="1.8"/>
<circle cx="708.5" cy="927" r="2.75" fill="none" stroke="#484848" stroke-width="1.8"/>
<circle cx="716.4" cy="936.5" r="2.75" fill="none" stroke="#484848" stroke-width="1.8"/>
<circle cx="724.4" cy="945" r="2.75" fill="none" stroke="#484848" stroke-width="1.8"/>
<circle cx="526.2" cy="732.7" r="3.65" fill="#000"/>
<circle cx="534.1" cy="744.1" r="3.65" fill="#000"/>
<circle cx="542.1" cy="757.3" r="3.65" fill="#000"/>
<circle cx="550" cy="770.5" r="3.65" fill="#000"/>
<circle cx="557.9" cy="796.5" r="3.65" fill="#000"/>
<circle cx="565.9" cy="862.6" r="3.65" fill="#000"/>
<circle cx="573.8" cy="884" r="3.65" fill="#000"/>
<circle cx="581.7" cy="892.9" r="3.65" fill="#000"/>
<circle cx="589.6" cy="873.3" r="3.65" fill="#000"/>
<circle cx="597.6" cy="837.7" r="3.65" fill="#000"/>
<circle cx="605.5" cy="877.3" r="3.65" fill="#000"/>
<circle cx="613.4" cy="882.1" r="3.65" fill="#000"/>
<circle cx="621.3" cy="890.7" r="3.65" fill="#000"/>
<circle cx="629.2" cy="896.3" r="3.65" fill="#000"/>
<circle cx="637.2" cy="887.3" r="3.65" fill="#000"/>
<circle cx="645.1" cy="892.6" r="3.65" fill="#000"/>
<circle cx="653" cy="899.5" r="3.65" fill="#000"/>
<circle cx="661" cy="887" r="3.65" fill="#000"/>
<circle cx="668.9" cy="901.6" r="3.65" fill="#000"/>
<circle cx="676.8" cy="910.5" r="3.65" fill="#000"/>
<circle cx="684.7" cy="910" r="3.65" fill="#000"/>
<circle cx="692.6" cy="921.5" r="3.65" fill="#000"/>
<circle cx="700.6" cy="917.2" r="3.65" fill="#000"/>
<circle cx="708.5" cy="922.6" r="3.65" fill="#000"/>
<circle cx="716.4" cy="931.8" r="3.65" fill="#000"/>
<circle cx="724.4" cy="935" r="3.65" fill="#000"/>
<circle cx="732.3" cy="935" r="3.65" fill="#000"/>
<circle cx="740.2" cy="938.7" r="3.65" fill="#000"/>
<circle cx="748.1" cy="942.5" r="3.65" fill="#000"/>
<circle cx="756" cy="947.7" r="3.65" fill="#000"/>
<circle cx="764" cy="949.5" r="3.65" fill="#000"/>
</g>
<g clip-path="url(#cb)">
<circle cx="898.2" cy="608.9" r="2.75" fill="none" stroke="#ff4646" stroke-width="1.8"/>
<circle cx="906.2" cy="634.4" r="2.75" fill="none" stroke="#ff4646" stroke-width="1.8"/>
<circle cx="914.1" cy="666.7" r="2.75" fill="none" stroke="#ff4646" stroke-width="1.8"/>
<circle cx="922" cy="683.3" r="2.75" fill="none" stroke="#ff4646" stroke-width="1.8"/>
<circle cx="929.9" cy="697" r="2.75" fill="none" stroke="#ff4646" stroke-width="1.8"/>
<circle cx="937.9" cy="706.8" r="2.75" fill="none" stroke="#ff4646" stroke-width="1.8"/>
<circle cx="945.8" cy="721.4" r="2.75" fill="none" stroke="#ff4646" stroke-width="1.8"/>
<circle cx="953.7" cy="748" r="2.75" fill="none" stroke="#ff4646" stroke-width="1.8"/>
<circle cx="961.6" cy="759" r="2.75" fill="none" stroke="#ff4646" stroke-width="1.8"/>
<circle cx="977.5" cy="843.7" r="2.75" fill="none" stroke="#ff4646" stroke-width="1.8"/>
<circle cx="985.4" cy="855.1" r="2.75" fill="none" stroke="#ff4646" stroke-width="1.8"/>
<circle cx="993.4" cy="859.3" r="2.75" fill="none" stroke="#ff4646" stroke-width="1.8"/>
<circle cx="1001.3" cy="875.9" r="2.75" fill="none" stroke="#ff4646" stroke-width="1.8"/>
<circle cx="1009.2" cy="901.8" r="2.75" fill="none" stroke="#ff4646" stroke-width="1.8"/>
<circle cx="1017.1" cy="921.5" r="2.75" fill="none" stroke="#ff4646" stroke-width="1.8"/>
<circle cx="1025" cy="858.3" r="2.75" fill="none" stroke="#ff4646" stroke-width="1.8"/>
<circle cx="1033" cy="922.6" r="2.75" fill="none" stroke="#ff4646" stroke-width="1.8"/>
<circle cx="1040.9" cy="895" r="2.75" fill="none" stroke="#ff4646" stroke-width="1.8"/>
<circle cx="1056.8" cy="931.8" r="2.75" fill="none" stroke="#ff4646" stroke-width="1.8"/>
<circle cx="1064.7" cy="903.5" r="2.75" fill="none" stroke="#ff4646" stroke-width="1.8"/>
<circle cx="1072.6" cy="912.3" r="2.75" fill="none" stroke="#ff4646" stroke-width="1.8"/>
<circle cx="1080.5" cy="909.1" r="2.75" fill="none" stroke="#ff4646" stroke-width="1.8"/>
<circle cx="1088.5" cy="939.4" r="2.75" fill="none" stroke="#ff4646" stroke-width="1.8"/>
<circle cx="898.2" cy="620.7" r="3.65" fill="#ff0000"/>
<circle cx="906.2" cy="649" r="3.65" fill="#ff0000"/>
<circle cx="914.1" cy="681.3" r="3.65" fill="#ff0000"/>
<circle cx="922" cy="698.9" r="3.65" fill="#ff0000"/>
<circle cx="929.9" cy="708.7" r="3.65" fill="#ff0000"/>
<circle cx="937.9" cy="721.4" r="3.65" fill="#ff0000"/>
<circle cx="945.8" cy="739.1" r="3.65" fill="#ff0000"/>
<circle cx="953.7" cy="770" r="3.65" fill="#ff0000"/>
<circle cx="961.6" cy="782.5" r="3.65" fill="#ff0000"/>
<circle cx="977.5" cy="900.8" r="3.65" fill="#ff0000"/>
<circle cx="985.4" cy="918.4" r="3.65" fill="#ff0000"/>
<circle cx="993.4" cy="933" r="3.65" fill="#ff0000"/>
<circle cx="1001.3" cy="945.4" r="3.65" fill="#ff0000"/>
<circle cx="1017.1" cy="940.2" r="3.65" fill="#ff0000"/>
<circle cx="1025" cy="940.2" r="3.65" fill="#ff0000"/>
<circle cx="1033" cy="934" r="3.65" fill="#ff0000"/>
<circle cx="1040.9" cy="937.1" r="3.65" fill="#ff0000"/>
<circle cx="890.3" cy="582.5" r="2.75" fill="none" stroke="#5050ff" stroke-width="1.8"/>
<circle cx="906.2" cy="628.5" r="2.75" fill="none" stroke="#5050ff" stroke-width="1.8"/>
<circle cx="914.1" cy="646.1" r="2.75" fill="none" stroke="#5050ff" stroke-width="1.8"/>
<circle cx="922" cy="659.8" r="2.75" fill="none" stroke="#5050ff" stroke-width="1.8"/>
<circle cx="929.9" cy="675.5" r="2.75" fill="none" stroke="#5050ff" stroke-width="1.8"/>
<circle cx="937.9" cy="694" r="2.75" fill="none" stroke="#5050ff" stroke-width="1.8"/>
<circle cx="945.8" cy="714.6" r="2.75" fill="none" stroke="#5050ff" stroke-width="1.8"/>
<circle cx="953.7" cy="732.2" r="2.75" fill="none" stroke="#5050ff" stroke-width="1.8"/>
<circle cx="969.6" cy="749" r="2.75" fill="none" stroke="#5050ff" stroke-width="1.8"/>
<circle cx="977.5" cy="767" r="2.75" fill="none" stroke="#5050ff" stroke-width="1.8"/>
<circle cx="985.4" cy="786" r="2.75" fill="none" stroke="#5050ff" stroke-width="1.8"/>
<circle cx="993.4" cy="804.3" r="2.75" fill="none" stroke="#5050ff" stroke-width="1.8"/>
<circle cx="1001.3" cy="817.8" r="2.75" fill="none" stroke="#5050ff" stroke-width="1.8"/>
<circle cx="1009.2" cy="829.2" r="2.75" fill="none" stroke="#5050ff" stroke-width="1.8"/>
<circle cx="1017.1" cy="853" r="2.75" fill="none" stroke="#5050ff" stroke-width="1.8"/>
<circle cx="1025" cy="871.7" r="2.75" fill="none" stroke="#5050ff" stroke-width="1.8"/>
<circle cx="1033" cy="871.7" r="2.75" fill="none" stroke="#5050ff" stroke-width="1.8"/>
<circle cx="1048.8" cy="869.7" r="2.75" fill="none" stroke="#5050ff" stroke-width="1.8"/>
<circle cx="1056.8" cy="902.8" r="2.75" fill="none" stroke="#5050ff" stroke-width="1.8"/>
<circle cx="1064.7" cy="930.5" r="2.75" fill="none" stroke="#5050ff" stroke-width="1.8"/>
<circle cx="1072.6" cy="930.2" r="2.75" fill="none" stroke="#5050ff" stroke-width="1.8"/>
<circle cx="1080.5" cy="945.7" r="2.75" fill="none" stroke="#5050ff" stroke-width="1.8"/>
<circle cx="898.2" cy="577.6" r="3.65" fill="#0000ff"/>
<circle cx="906.2" cy="597.2" r="3.65" fill="#0000ff"/>
<circle cx="914.1" cy="615.8" r="3.65" fill="#0000ff"/>
<circle cx="922" cy="629.5" r="3.65" fill="#0000ff"/>
<circle cx="929.9" cy="645.1" r="3.65" fill="#0000ff"/>
<circle cx="937.9" cy="671.5" r="3.65" fill="#0000ff"/>
<circle cx="945.8" cy="708.7" r="3.65" fill="#0000ff"/>
<circle cx="953.7" cy="725.4" r="3.65" fill="#0000ff"/>
<circle cx="969.6" cy="737.1" r="3.65" fill="#0000ff"/>
<circle cx="977.5" cy="751.1" r="3.65" fill="#0000ff"/>
<circle cx="985.4" cy="760.1" r="3.65" fill="#0000ff"/>
<circle cx="993.4" cy="779.4" r="3.65" fill="#0000ff"/>
<circle cx="1001.3" cy="795" r="3.65" fill="#0000ff"/>
<circle cx="1009.2" cy="815" r="3.65" fill="#0000ff"/>
<circle cx="1017.1" cy="836.5" r="3.65" fill="#0000ff"/>
<circle cx="1025" cy="853" r="3.65" fill="#0000ff"/>
<circle cx="1033" cy="863.4" r="3.65" fill="#0000ff"/>
<circle cx="1048.8" cy="873.4" r="3.65" fill="#0000ff"/>
<circle cx="1056.8" cy="895.6" r="3.65" fill="#0000ff"/>
<circle cx="1064.7" cy="926.2" r="3.65" fill="#0000ff"/>
<circle cx="1072.6" cy="938.1" r="3.65" fill="#0000ff"/>
<circle cx="1096.4" cy="947.9" r="3.65" fill="#0000ff"/>
<circle cx="1104.3" cy="950.5" r="3.65" fill="#0000ff"/>
<circle cx="1112.2" cy="950.5" r="3.65" fill="#0000ff"/>
<circle cx="922" cy="666.7" r="2.75" fill="none" stroke="#484848" stroke-width="1.8"/>
<circle cx="929.9" cy="697" r="2.75" fill="none" stroke="#484848" stroke-width="1.8"/>
<circle cx="937.9" cy="756.2" r="2.75" fill="none" stroke="#484848" stroke-width="1.8"/>
<circle cx="945.8" cy="760.7" r="2.75" fill="none" stroke="#484848" stroke-width="1.8"/>
<circle cx="953.7" cy="764.9" r="2.75" fill="none" stroke="#484848" stroke-width="1.8"/>
<circle cx="961.6" cy="800.2" r="2.75" fill="none" stroke="#484848" stroke-width="1.8"/>
<circle cx="969.6" cy="841.7" r="2.75" fill="none" stroke="#484848" stroke-width="1.8"/>
<circle cx="977.5" cy="852" r="2.75" fill="none" stroke="#484848" stroke-width="1.8"/>
<circle cx="985.4" cy="866.6" r="2.75" fill="none" stroke="#484848" stroke-width="1.8"/>
<circle cx="993.4" cy="895.6" r="2.75" fill="none" stroke="#484848" stroke-width="1.8"/>
<circle cx="1001.3" cy="917.4" r="2.75" fill="none" stroke="#484848" stroke-width="1.8"/>
<circle cx="1009.2" cy="944.4" r="2.75" fill="none" stroke="#484848" stroke-width="1.8"/>
<circle cx="922" cy="696" r="3.65" fill="#000"/>
<circle cx="929.9" cy="715.6" r="3.65" fill="#000"/>
<circle cx="937.9" cy="731.2" r="3.65" fill="#000"/>
<circle cx="945.8" cy="737.1" r="3.65" fill="#000"/>
<circle cx="953.7" cy="741.5" r="3.65" fill="#000"/>
<circle cx="961.6" cy="749" r="3.65" fill="#000"/>
<circle cx="969.6" cy="762.8" r="3.65" fill="#000"/>
<circle cx="977.5" cy="774.2" r="3.65" fill="#000"/>
<circle cx="985.4" cy="785.6" r="3.65" fill="#000"/>
<circle cx="993.4" cy="795" r="3.65" fill="#000"/>
<circle cx="1001.3" cy="807.4" r="3.65" fill="#000"/>
<circle cx="1009.2" cy="815.7" r="3.65" fill="#000"/>
<circle cx="1017.1" cy="824" r="3.65" fill="#000"/>
<circle cx="1025" cy="833.4" r="3.65" fill="#000"/>
<circle cx="1033" cy="839.6" r="3.65" fill="#000"/>
<circle cx="1040.9" cy="847" r="3.65" fill="#000"/>
<circle cx="1048.8" cy="864.6" r="3.65" fill="#000"/>
<circle cx="1056.8" cy="872.1" r="3.65" fill="#000"/>
<circle cx="1064.7" cy="879.4" r="3.65" fill="#000"/>
<circle cx="1072.6" cy="885.2" r="3.65" fill="#000"/>
<circle cx="1080.5" cy="894.9" r="3.65" fill="#000"/>
<circle cx="1088.5" cy="901.4" r="3.65" fill="#000"/>
<circle cx="1096.4" cy="907.9" r="3.65" fill="#000"/>
<circle cx="1104.3" cy="914.3" r="3.65" fill="#000"/>
<circle cx="1112.2" cy="920.8" r="3.65" fill="#000"/>
<circle cx="1120.2" cy="927.2" r="3.65" fill="#000"/>
<circle cx="1128.1" cy="941.4" r="3.65" fill="#000"/>
<circle cx="1136" cy="946" r="3.65" fill="#000"/>
<circle cx="1143.9" cy="949.8" r="3.65" fill="#000"/>
</g>
<line x1="169.7" y1="258.8" x2="169.7" y2="556" stroke="#a24fd4" stroke-width="2.7" stroke-dasharray="8.6 4.6"/>
<line x1="249.4" y1="258.8" x2="249.4" y2="556" stroke="#a24fd4" stroke-width="2.7" stroke-dasharray="8.6 4.6"/>
<line x1="328" y1="258.8" x2="328" y2="556" stroke="#a24fd4" stroke-width="2.7" stroke-dasharray="8.6 4.6"/>
<line x1="407.8" y1="258.8" x2="407.8" y2="556" stroke="#a24fd4" stroke-width="2.7" stroke-dasharray="8.6 4.6"/>
<line x1="565.1" y1="258.8" x2="565.1" y2="556" stroke="#a24fd4" stroke-width="2.7" stroke-dasharray="8.6 4.6"/>
<line x1="645" y1="258.8" x2="645" y2="556" stroke="#a24fd4" stroke-width="2.7" stroke-dasharray="8.6 4.6"/>
<line x1="724.4" y1="258.8" x2="724.4" y2="556" stroke="#a24fd4" stroke-width="2.7" stroke-dasharray="8.6 4.6"/>
<line x1="803.4" y1="258.8" x2="803.4" y2="556" stroke="#a24fd4" stroke-width="2.7" stroke-dasharray="8.6 4.6"/>
<line x1="961.7" y1="258.8" x2="961.7" y2="556" stroke="#a24fd4" stroke-width="2.7" stroke-dasharray="8.6 4.6"/>
<line x1="1041.4" y1="258.8" x2="1041.4" y2="556" stroke="#a24fd4" stroke-width="2.7" stroke-dasharray="8.6 4.6"/>
<line x1="1120.5" y1="258.8" x2="1120.5" y2="556" stroke="#a24fd4" stroke-width="2.7" stroke-dasharray="8.6 4.6"/>
<line x1="1199.9" y1="258.8" x2="1199.9" y2="556" stroke="#a24fd4" stroke-width="2.7" stroke-dasharray="8.6 4.6"/>
<line x1="170.2" y1="654.8" x2="170.2" y2="952" stroke="#a24fd4" stroke-width="2.7" stroke-dasharray="8.6 4.6"/>
<line x1="249" y1="654.8" x2="249" y2="952" stroke="#a24fd4" stroke-width="2.7" stroke-dasharray="8.6 4.6"/>
<line x1="331" y1="654.8" x2="331" y2="952" stroke="#a24fd4" stroke-width="2.7" stroke-dasharray="8.6 4.6"/>
<line x1="406.4" y1="654.8" x2="406.4" y2="952" stroke="#a24fd4" stroke-width="2.7" stroke-dasharray="8.6 4.6"/>
<line x1="565" y1="654.8" x2="565" y2="952" stroke="#a24fd4" stroke-width="2.7" stroke-dasharray="8.6 4.6"/>
<line x1="644.7" y1="654.8" x2="644.7" y2="952" stroke="#a24fd4" stroke-width="2.7" stroke-dasharray="8.6 4.6"/>
<line x1="722" y1="654.8" x2="722" y2="952" stroke="#a24fd4" stroke-width="2.7" stroke-dasharray="8.6 4.6"/>
<line x1="803.6" y1="654.8" x2="803.6" y2="952" stroke="#a24fd4" stroke-width="2.7" stroke-dasharray="8.6 4.6"/>
<line x1="961.2" y1="654.8" x2="961.2" y2="952" stroke="#a24fd4" stroke-width="2.7" stroke-dasharray="8.6 4.6"/>
<line x1="1040" y1="654.8" x2="1040" y2="952" stroke="#a24fd4" stroke-width="2.7" stroke-dasharray="8.6 4.6"/>
<line x1="1120.8" y1="654.8" x2="1120.8" y2="952" stroke="#a24fd4" stroke-width="2.7" stroke-dasharray="8.6 4.6"/>
<line x1="1199.2" y1="654.8" x2="1199.2" y2="952" stroke="#a24fd4" stroke-width="2.7" stroke-dasharray="8.6 4.6"/>
<line x1="89.6" y1="160" x2="1278.8" y2="160" stroke="#666" stroke-width="2"/>
<line x1="89.6" y1="556.3" x2="1278.8" y2="556.3" stroke="#666" stroke-width="2"/>
<line x1="89.6" y1="952.2" x2="1278.8" y2="952.2" stroke="#666" stroke-width="2"/>
<line x1="90.6" y1="159" x2="90.6" y2="953.2" stroke="#666" stroke-width="2"/>
<line x1="486.6" y1="159" x2="486.6" y2="953.2" stroke="#7c7c7c" stroke-width="2.4"/>
<line x1="882.4" y1="159" x2="882.4" y2="953.2" stroke="#7c7c7c" stroke-width="2.4"/>
<line x1="1278" y1="159" x2="1278" y2="953.2" stroke="#8a8a8a" stroke-width="2.6"/>
<path d="M90.7 209.7h5M90.7 259.2h8M90.7 308.7h5M90.7 358.2h8M90.7 407.7h5M90.7 457.2h8M90.7 506.7h5M130 549.7V563.7M169.7 549.7V563.7M209.3 549.7V563.7M248.9 549.7V563.7M288.5 549.7V563.7M328.1 549.7V563.7M367.8 549.7V563.7M407.4 549.7V563.7M447 549.7V563.7M486.9 209.7h5M486.9 259.2h8M486.9 308.7h5M486.9 358.2h8M486.9 407.7h5M486.9 457.2h8M486.9 506.7h5M526.2 549.7V563.7M565.9 549.7V563.7M605.5 549.7V563.7M645.1 549.7V563.7M684.7 549.7V563.7M724.4 549.7V563.7M764 549.7V563.7M803.6 549.7V563.7M843.2 549.7V563.7M882.7 209.7h5M882.7 259.2h8M882.7 308.7h5M882.7 358.2h8M882.7 407.7h5M882.7 457.2h8M882.7 506.7h5M922 549.7V563.7M961.6 549.7V563.7M1001.3 549.7V563.7M1040.9 549.7V563.7M1080.5 549.7V563.7M1120.2 549.7V563.7M1159.8 549.7V563.7M1199.4 549.7V563.7M1239 549.7V563.7M90.7 605.5h5M90.7 655h8M90.7 704.5h5M90.7 754h8M90.7 803.5h5M90.7 853h8M90.7 902.5h5M130 944V952M169.7 944V952M209.3 944V952M248.9 944V952M288.5 944V952M328.1 944V952M367.8 944V952M407.4 944V952M447 944V952M486.9 605.5h5M486.9 655h8M486.9 704.5h5M486.9 754h8M486.9 803.5h5M486.9 853h8M486.9 902.5h5M526.2 944V952M565.9 944V952M605.5 944V952M645.1 944V952M684.7 944V952M724.4 944V952M764 944V952M803.6 944V952M843.2 944V952M882.7 605.5h5M882.7 655h8M882.7 704.5h5M882.7 754h8M882.7 803.5h5M882.7 853h8M882.7 902.5h5M922 944V952M961.6 944V952M1001.3 944V952M1040.9 944V952M1080.5 944V952M1120.2 944V952M1159.8 944V952M1199.4 944V952M1239 944V952" stroke="#4a4a4a" stroke-width="1.3" fill="none"/>
<text transform="translate(84.6 217.6) scale(1 1.05)" text-anchor="end" style="font-family:'Liberation Serif',serif;font-weight:bold;font-size:24px">225</text>
<text transform="translate(84.6 316.6) scale(1 1.05)" text-anchor="end" style="font-family:'Liberation Serif',serif;font-weight:bold;font-size:24px">215</text>
<text transform="translate(84.6 415.6) scale(1 1.05)" text-anchor="end" style="font-family:'Liberation Serif',serif;font-weight:bold;font-size:24px">205</text>
<text transform="translate(84.6 514.6) scale(1 1.05)" text-anchor="end" style="font-family:'Liberation Serif',serif;font-weight:bold;font-size:24px">195</text>
<text transform="translate(480.8 217.6) scale(1 1.05)" text-anchor="end" style="font-family:'Liberation Serif',serif;font-weight:bold;font-size:24px">225</text>
<text transform="translate(480.8 316.6) scale(1 1.05)" text-anchor="end" style="font-family:'Liberation Serif',serif;font-weight:bold;font-size:24px">215</text>
<text transform="translate(480.8 415.6) scale(1 1.05)" text-anchor="end" style="font-family:'Liberation Serif',serif;font-weight:bold;font-size:24px">205</text>
<text transform="translate(480.8 514.6) scale(1 1.05)" text-anchor="end" style="font-family:'Liberation Serif',serif;font-weight:bold;font-size:24px">195</text>
<text transform="translate(876.6 217.6) scale(1 1.05)" text-anchor="end" style="font-family:'Liberation Serif',serif;font-weight:bold;font-size:24px">225</text>
<text transform="translate(876.6 316.6) scale(1 1.05)" text-anchor="end" style="font-family:'Liberation Serif',serif;font-weight:bold;font-size:24px">215</text>
<text transform="translate(876.6 415.6) scale(1 1.05)" text-anchor="end" style="font-family:'Liberation Serif',serif;font-weight:bold;font-size:24px">205</text>
<text transform="translate(876.6 514.6) scale(1 1.05)" text-anchor="end" style="font-family:'Liberation Serif',serif;font-weight:bold;font-size:24px">195</text>
<text transform="translate(84.6 613.4) scale(1 1.05)" text-anchor="end" style="font-family:'Liberation Serif',serif;font-weight:bold;font-size:24px">245</text>
<text transform="translate(84.6 712.4) scale(1 1.05)" text-anchor="end" style="font-family:'Liberation Serif',serif;font-weight:bold;font-size:24px">235</text>
<text transform="translate(84.6 811.4) scale(1 1.05)" text-anchor="end" style="font-family:'Liberation Serif',serif;font-weight:bold;font-size:24px">225</text>
<text transform="translate(84.6 910.4) scale(1 1.05)" text-anchor="end" style="font-family:'Liberation Serif',serif;font-weight:bold;font-size:24px">215</text>
<text transform="translate(480.8 613.4) scale(1 1.05)" text-anchor="end" style="font-family:'Liberation Serif',serif;font-weight:bold;font-size:24px">245</text>
<text transform="translate(480.8 712.4) scale(1 1.05)" text-anchor="end" style="font-family:'Liberation Serif',serif;font-weight:bold;font-size:24px">235</text>
<text transform="translate(480.8 811.4) scale(1 1.05)" text-anchor="end" style="font-family:'Liberation Serif',serif;font-weight:bold;font-size:24px">225</text>
<text transform="translate(480.8 910.4) scale(1 1.05)" text-anchor="end" style="font-family:'Liberation Serif',serif;font-weight:bold;font-size:24px">215</text>
<text transform="translate(876.6 613.4) scale(1 1.05)" text-anchor="end" style="font-family:'Liberation Serif',serif;font-weight:bold;font-size:24px">245</text>
<text transform="translate(876.6 712.4) scale(1 1.05)" text-anchor="end" style="font-family:'Liberation Serif',serif;font-weight:bold;font-size:24px">235</text>
<text transform="translate(876.6 811.4) scale(1 1.05)" text-anchor="end" style="font-family:'Liberation Serif',serif;font-weight:bold;font-size:24px">225</text>
<text transform="translate(876.6 910.4) scale(1 1.05)" text-anchor="end" style="font-family:'Liberation Serif',serif;font-weight:bold;font-size:24px">215</text>
<text transform="translate(130.2 979.8) scale(1 1.05)" text-anchor="middle" style="font-family:'Liberation Serif',serif;font-weight:bold;font-size:24px">5</text>
<text transform="translate(209.5 979.8) scale(1 1.05)" text-anchor="middle" style="font-family:'Liberation Serif',serif;font-weight:bold;font-size:24px">15</text>
<text transform="translate(288.7 979.8) scale(1 1.05)" text-anchor="middle" style="font-family:'Liberation Serif',serif;font-weight:bold;font-size:24px">25</text>
<text transform="translate(368 979.8) scale(1 1.05)" text-anchor="middle" style="font-family:'Liberation Serif',serif;font-weight:bold;font-size:24px">35</text>
<text transform="translate(447.2 979.8) scale(1 1.05)" text-anchor="middle" style="font-family:'Liberation Serif',serif;font-weight:bold;font-size:24px">45</text>
<text transform="translate(280.9 1014) scale(1 1.05)" text-anchor="middle" style="font-family:'Liberation Serif',serif;font-weight:bold;font-size:33px">Cycle Number</text>
<text transform="translate(526.4 979.8) scale(1 1.05)" text-anchor="middle" style="font-family:'Liberation Serif',serif;font-weight:bold;font-size:24px">5</text>
<text transform="translate(605.7 979.8) scale(1 1.05)" text-anchor="middle" style="font-family:'Liberation Serif',serif;font-weight:bold;font-size:24px">15</text>
<text transform="translate(684.9 979.8) scale(1 1.05)" text-anchor="middle" style="font-family:'Liberation Serif',serif;font-weight:bold;font-size:24px">25</text>
<text transform="translate(764.2 979.8) scale(1 1.05)" text-anchor="middle" style="font-family:'Liberation Serif',serif;font-weight:bold;font-size:24px">35</text>
<text transform="translate(843.4 979.8) scale(1 1.05)" text-anchor="middle" style="font-family:'Liberation Serif',serif;font-weight:bold;font-size:24px">45</text>
<text transform="translate(677.1 1014) scale(1 1.05)" text-anchor="middle" style="font-family:'Liberation Serif',serif;font-weight:bold;font-size:33px">Cycle Number</text>
<text transform="translate(922.2 979.8) scale(1 1.05)" text-anchor="middle" style="font-family:'Liberation Serif',serif;font-weight:bold;font-size:24px">5</text>
<text transform="translate(1001.5 979.8) scale(1 1.05)" text-anchor="middle" style="font-family:'Liberation Serif',serif;font-weight:bold;font-size:24px">15</text>
<text transform="translate(1080.7 979.8) scale(1 1.05)" text-anchor="middle" style="font-family:'Liberation Serif',serif;font-weight:bold;font-size:24px">25</text>
<text transform="translate(1160 979.8) scale(1 1.05)" text-anchor="middle" style="font-family:'Liberation Serif',serif;font-weight:bold;font-size:24px">35</text>
<text transform="translate(1239.2 979.8) scale(1 1.05)" text-anchor="middle" style="font-family:'Liberation Serif',serif;font-weight:bold;font-size:24px">45</text>
<text transform="translate(1072.9 1014) scale(1 1.05)" text-anchor="middle" style="font-family:'Liberation Serif',serif;font-weight:bold;font-size:33px">Cycle Number</text>
<text x="0" y="0" transform="translate(24.8 356.8) rotate(-90)" text-anchor="middle" style="font-family:'Liberation Serif',serif;font-weight:bold;font-size:33px">Discharge Capacity (mAh)</text>
<text x="0" y="0" transform="translate(24.8 752.8) rotate(-90)" text-anchor="middle" style="font-family:'Liberation Serif',serif;font-weight:bold;font-size:33px">Discharge Capacity (mAh)</text>
<rect x="299.4" y="166.3" width="163.7" height="29.3" fill="#fff" stroke="#9a9a9a" stroke-width="2"/>
<text transform="translate(384 189) scale(1 1.05)" text-anchor="middle" style="font-family:'Liberation Serif',serif;font-weight:bold;font-size:23.6px">2.8-4.2 V</text>
<rect x="708" y="167" width="164" height="29.7" fill="#fff" stroke="#9a9a9a" stroke-width="2"/>
<text transform="translate(790.5 189.7) scale(1 1.05)" text-anchor="middle" style="font-family:'Liberation Serif',serif;font-weight:bold;font-size:23.6px">2.8-4.3 V</text>
<rect x="1106.3" y="165.6" width="165.5" height="30" fill="#fff" stroke="#9a9a9a" stroke-width="2"/>
<text transform="translate(1193 190.2) scale(1 1.05)" text-anchor="middle" style="font-family:'Liberation Serif',serif;font-weight:bold;font-size:23.6px">2.8-4.4 V</text>
<rect x="298.8" y="563.8" width="164.8" height="30.5" fill="#fff" stroke="#9a9a9a" stroke-width="2"/>
<text transform="translate(384.7 590) scale(1 1.05)" text-anchor="middle" style="font-family:'Liberation Serif',serif;font-weight:bold;font-size:23.6px">2.8-4.5 V</text>
<rect x="709.5" y="563.8" width="164.1" height="30.5" fill="#fff" stroke="#9a9a9a" stroke-width="2"/>
<text transform="translate(791.2 588) scale(1 1.05)" text-anchor="middle" style="font-family:'Liberation Serif',serif;font-weight:bold;font-size:23.6px">2.8-4.6 V</text>
<rect x="1110.8" y="564.2" width="164.7" height="30.7" fill="#fff" stroke="#9a9a9a" stroke-width="2"/>
<text transform="translate(1200.2 587.5) scale(1 1.05)" text-anchor="middle" style="font-family:'Liberation Serif',serif;font-weight:bold;font-size:23.6px">2.8-4.7 V</text>
</svg>
</body></html>
